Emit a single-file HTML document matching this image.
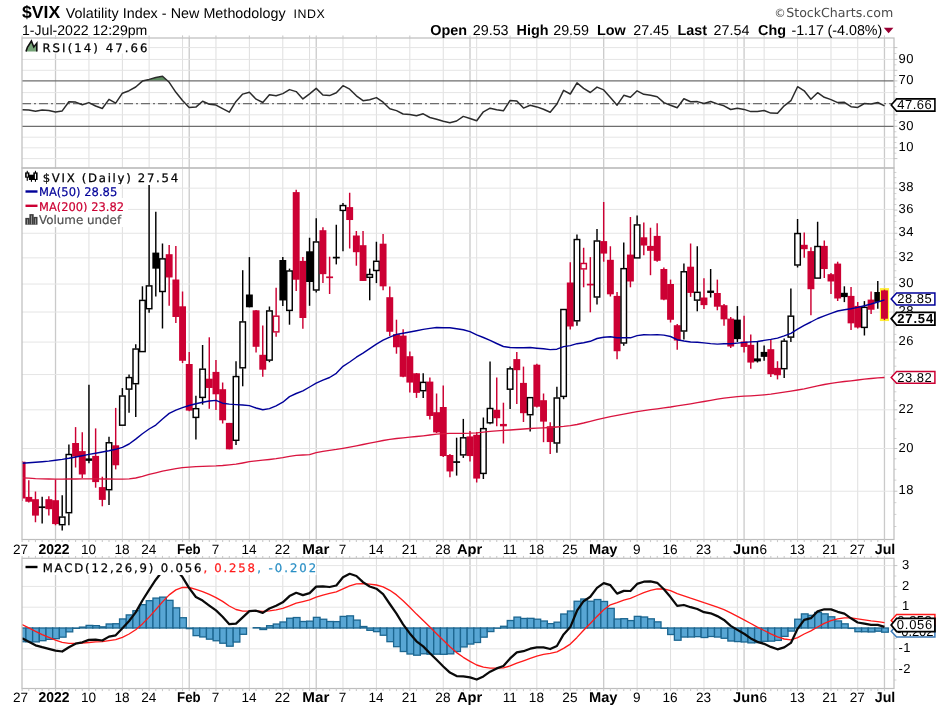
<!DOCTYPE html>
<html><head><meta charset="utf-8"><title>$VIX</title><style>html,body{margin:0;padding:0;background:#fff}svg{display:block;will-change:transform}text{text-rendering:geometricPrecision}</style></head><body>
<svg width="936" height="710" viewBox="0 0 936 710">
<rect width="936" height="710" fill="#fff"/>
<line x1="88.95" y1="38.0" x2="88.95" y2="168.0" stroke="#dfdfdf" stroke-width="1.0"/>
<line x1="122.38" y1="38.0" x2="122.38" y2="168.0" stroke="#dfdfdf" stroke-width="1.0"/>
<line x1="149.11" y1="38.0" x2="149.11" y2="168.0" stroke="#dfdfdf" stroke-width="1.0"/>
<line x1="182.54" y1="38.0" x2="182.54" y2="168.0" stroke="#dfdfdf" stroke-width="1.0"/>
<line x1="215.96" y1="38.0" x2="215.96" y2="168.0" stroke="#dfdfdf" stroke-width="1.0"/>
<line x1="249.39" y1="38.0" x2="249.39" y2="168.0" stroke="#dfdfdf" stroke-width="1.0"/>
<line x1="282.81" y1="38.0" x2="282.81" y2="168.0" stroke="#dfdfdf" stroke-width="1.0"/>
<line x1="309.56" y1="38.0" x2="309.56" y2="168.0" stroke="#dfdfdf" stroke-width="1.0"/>
<line x1="342.98" y1="38.0" x2="342.98" y2="168.0" stroke="#dfdfdf" stroke-width="1.0"/>
<line x1="376.41" y1="38.0" x2="376.41" y2="168.0" stroke="#dfdfdf" stroke-width="1.0"/>
<line x1="409.83" y1="38.0" x2="409.83" y2="168.0" stroke="#dfdfdf" stroke-width="1.0"/>
<line x1="443.25" y1="38.0" x2="443.25" y2="168.0" stroke="#dfdfdf" stroke-width="1.0"/>
<line x1="476.68" y1="38.0" x2="476.68" y2="168.0" stroke="#dfdfdf" stroke-width="1.0"/>
<line x1="510.11" y1="38.0" x2="510.11" y2="168.0" stroke="#dfdfdf" stroke-width="1.0"/>
<line x1="536.85" y1="38.0" x2="536.85" y2="168.0" stroke="#dfdfdf" stroke-width="1.0"/>
<line x1="570.27" y1="38.0" x2="570.27" y2="168.0" stroke="#dfdfdf" stroke-width="1.0"/>
<line x1="637.12" y1="38.0" x2="637.12" y2="168.0" stroke="#dfdfdf" stroke-width="1.0"/>
<line x1="670.54" y1="38.0" x2="670.54" y2="168.0" stroke="#dfdfdf" stroke-width="1.0"/>
<line x1="703.97" y1="38.0" x2="703.97" y2="168.0" stroke="#dfdfdf" stroke-width="1.0"/>
<line x1="737.39" y1="38.0" x2="737.39" y2="168.0" stroke="#dfdfdf" stroke-width="1.0"/>
<line x1="764.13" y1="38.0" x2="764.13" y2="168.0" stroke="#dfdfdf" stroke-width="1.0"/>
<line x1="797.56" y1="38.0" x2="797.56" y2="168.0" stroke="#dfdfdf" stroke-width="1.0"/>
<line x1="830.99" y1="38.0" x2="830.99" y2="168.0" stroke="#dfdfdf" stroke-width="1.0"/>
<line x1="857.73" y1="38.0" x2="857.73" y2="168.0" stroke="#dfdfdf" stroke-width="1.0"/>
<line x1="55.52" y1="38.0" x2="55.52" y2="168.0" stroke="#cacaca" stroke-width="1.3"/>
<line x1="189.22" y1="38.0" x2="189.22" y2="168.0" stroke="#cacaca" stroke-width="1.3"/>
<line x1="316.24" y1="38.0" x2="316.24" y2="168.0" stroke="#cacaca" stroke-width="1.3"/>
<line x1="470.00" y1="38.0" x2="470.00" y2="168.0" stroke="#cacaca" stroke-width="1.3"/>
<line x1="603.69" y1="38.0" x2="603.69" y2="168.0" stroke="#cacaca" stroke-width="1.3"/>
<line x1="744.08" y1="38.0" x2="744.08" y2="168.0" stroke="#cacaca" stroke-width="1.3"/>
<line x1="884.46" y1="38.0" x2="884.46" y2="168.0" stroke="#cacaca" stroke-width="1.3"/>
<line x1="22.0" y1="158.60" x2="894.0" y2="158.60" stroke="#e5e5e5" stroke-width="1.0" />
<line x1="22.0" y1="147.80" x2="894.0" y2="147.80" stroke="#e5e5e5" stroke-width="1.0" />
<line x1="22.0" y1="137.20" x2="894.0" y2="137.20" stroke="#e5e5e5" stroke-width="1.0" />
<line x1="22.0" y1="114.80" x2="894.0" y2="114.80" stroke="#e5e5e5" stroke-width="1.0" />
<line x1="22.0" y1="103.70" x2="894.0" y2="103.70" stroke="#e5e5e5" stroke-width="1.0" />
<line x1="22.0" y1="92.60" x2="894.0" y2="92.60" stroke="#e5e5e5" stroke-width="1.0" />
<line x1="22.0" y1="70.30" x2="894.0" y2="70.30" stroke="#e5e5e5" stroke-width="1.0" />
<line x1="22.0" y1="59.40" x2="894.0" y2="59.40" stroke="#e5e5e5" stroke-width="1.0" />
<line x1="22.0" y1="47.60" x2="894.0" y2="47.60" stroke="#e5e5e5" stroke-width="1.0" />
<line x1="894.0" y1="158.60" x2="897.4" y2="158.60" stroke="#c4c4c4" stroke-width="1"/>
<line x1="894.0" y1="147.80" x2="897.4" y2="147.80" stroke="#c4c4c4" stroke-width="1"/>
<line x1="894.0" y1="137.20" x2="897.4" y2="137.20" stroke="#c4c4c4" stroke-width="1"/>
<line x1="894.0" y1="126.30" x2="897.4" y2="126.30" stroke="#c4c4c4" stroke-width="1"/>
<line x1="894.0" y1="114.80" x2="897.4" y2="114.80" stroke="#c4c4c4" stroke-width="1"/>
<line x1="894.0" y1="103.70" x2="897.4" y2="103.70" stroke="#c4c4c4" stroke-width="1"/>
<line x1="894.0" y1="92.60" x2="897.4" y2="92.60" stroke="#c4c4c4" stroke-width="1"/>
<line x1="894.0" y1="80.90" x2="897.4" y2="80.90" stroke="#c4c4c4" stroke-width="1"/>
<line x1="894.0" y1="70.30" x2="897.4" y2="70.30" stroke="#c4c4c4" stroke-width="1"/>
<line x1="894.0" y1="59.40" x2="897.4" y2="59.40" stroke="#c4c4c4" stroke-width="1"/>
<line x1="894.0" y1="47.60" x2="897.4" y2="47.60" stroke="#c4c4c4" stroke-width="1"/>
<line x1="894.0" y1="153.20" x2="896.4" y2="153.20" stroke="#d2d2d2" stroke-width="1"/>
<line x1="894.0" y1="142.50" x2="896.4" y2="142.50" stroke="#d2d2d2" stroke-width="1"/>
<line x1="894.0" y1="131.75" x2="896.4" y2="131.75" stroke="#d2d2d2" stroke-width="1"/>
<line x1="894.0" y1="120.55" x2="896.4" y2="120.55" stroke="#d2d2d2" stroke-width="1"/>
<line x1="894.0" y1="109.25" x2="896.4" y2="109.25" stroke="#d2d2d2" stroke-width="1"/>
<line x1="894.0" y1="98.15" x2="896.4" y2="98.15" stroke="#d2d2d2" stroke-width="1"/>
<line x1="894.0" y1="86.75" x2="896.4" y2="86.75" stroke="#d2d2d2" stroke-width="1"/>
<line x1="894.0" y1="75.60" x2="896.4" y2="75.60" stroke="#d2d2d2" stroke-width="1"/>
<line x1="894.0" y1="64.85" x2="896.4" y2="64.85" stroke="#d2d2d2" stroke-width="1"/>
<line x1="894.0" y1="53.50" x2="896.4" y2="53.50" stroke="#d2d2d2" stroke-width="1"/>
<polygon points="143.2,80.9 149.1,79.4 155.8,77.5 162.5,76.3 167.6,80.9" fill="#5f8f62"/>
<line x1="22.0" y1="80.90" x2="894.0" y2="80.90" stroke="#6e6e6e" stroke-width="1.3" />
<line x1="22.0" y1="126.30" x2="894.0" y2="126.30" stroke="#6e6e6e" stroke-width="1.3" />
<line x1="22.0" y1="103.70" x2="894.0" y2="103.70" stroke="#6e6e6e" stroke-width="1.2" stroke-dasharray="9 3 2 3"/>
<polyline fill="none" stroke="#2b2b2b" stroke-width="1.5" stroke-linejoin="round" points="22.1,109.7 28.8,110.0 35.5,111.3 42.2,110.1 48.8,110.4 55.5,112.0 62.2,110.9 68.9,101.7 75.6,102.1 82.3,104.8 88.9,102.6 95.6,106.0 102.3,108.5 109.0,99.4 115.7,103.1 122.4,93.2 129.1,90.7 135.7,87.0 142.4,81.1 149.1,79.4 155.8,77.5 162.5,76.3 169.2,82.3 175.9,92.3 182.5,100.5 189.2,107.4 195.9,107.1 202.6,101.3 209.3,104.2 216.0,105.1 222.6,108.7 229.3,112.2 236.0,101.4 242.7,94.1 249.4,92.3 256.1,99.2 262.8,102.5 269.4,94.8 276.1,95.7 282.8,93.6 289.5,89.6 296.2,91.6 302.9,98.9 309.6,93.8 316.2,88.4 322.9,95.0 329.6,95.6 336.3,92.8 343.0,85.7 349.7,89.2 356.4,95.8 363.0,100.7 369.7,99.7 376.4,97.6 383.1,102.2 389.8,108.7 396.5,110.6 403.1,114.0 409.8,114.6 416.5,115.7 423.2,113.8 429.9,117.5 436.6,119.2 443.3,121.3 449.9,122.7 456.6,121.0 463.3,116.4 470.0,118.5 476.7,120.8 483.4,111.8 490.1,108.2 496.7,109.7 503.4,110.8 510.1,100.5 516.8,100.9 523.5,108.1 530.2,105.3 536.8,106.9 543.5,109.3 550.2,112.3 556.9,104.0 563.6,90.3 570.3,94.0 577.0,82.9 583.6,88.3 590.3,92.5 597.0,87.1 603.7,89.9 610.4,97.4 617.1,105.2 623.8,95.3 630.4,97.3 637.1,90.8 643.8,94.3 650.5,95.2 657.2,96.8 663.9,102.6 670.5,105.2 677.2,107.7 683.9,98.7 690.6,101.7 697.3,101.6 704.0,103.5 710.7,101.5 717.3,103.9 724.0,105.8 730.7,109.5 737.4,108.3 744.1,109.4 750.8,111.6 757.4,111.4 764.1,110.5 770.8,113.1 777.5,113.3 784.2,105.8 790.9,100.7 797.6,86.7 804.2,90.8 810.9,99.2 817.6,92.7 824.3,97.3 831.0,99.6 837.7,102.6 844.4,102.3 851.0,106.7 857.7,107.4 864.4,103.5 871.1,104.1 877.8,102.5 884.5,105.9"/>
<rect x="22.0" y="38.0" width="872.0" height="130.0" fill="none" stroke="#bdbdbd" stroke-width="1.2"/>
<text x="898.5" y="62.7" style="font-family:'Liberation Sans',Arial,sans-serif;font-size:13px;letter-spacing:0.4px;fill:#000">90</text>
<text x="898.5" y="84.3" style="font-family:'Liberation Sans',Arial,sans-serif;font-size:13px;letter-spacing:0.4px;fill:#000">70</text>
<text x="898.5" y="130.0" style="font-family:'Liberation Sans',Arial,sans-serif;font-size:13px;letter-spacing:0.4px;fill:#000">30</text>
<text x="898.5" y="151.2" style="font-family:'Liberation Sans',Arial,sans-serif;font-size:13px;letter-spacing:0.4px;fill:#000">10</text>
<line x1="88.95" y1="168.0" x2="88.95" y2="539.5" stroke="#dfdfdf" stroke-width="1.0"/>
<line x1="122.38" y1="168.0" x2="122.38" y2="539.5" stroke="#dfdfdf" stroke-width="1.0"/>
<line x1="149.11" y1="168.0" x2="149.11" y2="539.5" stroke="#dfdfdf" stroke-width="1.0"/>
<line x1="182.54" y1="168.0" x2="182.54" y2="539.5" stroke="#dfdfdf" stroke-width="1.0"/>
<line x1="215.96" y1="168.0" x2="215.96" y2="539.5" stroke="#dfdfdf" stroke-width="1.0"/>
<line x1="249.39" y1="168.0" x2="249.39" y2="539.5" stroke="#dfdfdf" stroke-width="1.0"/>
<line x1="282.81" y1="168.0" x2="282.81" y2="539.5" stroke="#dfdfdf" stroke-width="1.0"/>
<line x1="309.56" y1="168.0" x2="309.56" y2="539.5" stroke="#dfdfdf" stroke-width="1.0"/>
<line x1="342.98" y1="168.0" x2="342.98" y2="539.5" stroke="#dfdfdf" stroke-width="1.0"/>
<line x1="376.41" y1="168.0" x2="376.41" y2="539.5" stroke="#dfdfdf" stroke-width="1.0"/>
<line x1="409.83" y1="168.0" x2="409.83" y2="539.5" stroke="#dfdfdf" stroke-width="1.0"/>
<line x1="443.25" y1="168.0" x2="443.25" y2="539.5" stroke="#dfdfdf" stroke-width="1.0"/>
<line x1="476.68" y1="168.0" x2="476.68" y2="539.5" stroke="#dfdfdf" stroke-width="1.0"/>
<line x1="510.11" y1="168.0" x2="510.11" y2="539.5" stroke="#dfdfdf" stroke-width="1.0"/>
<line x1="536.85" y1="168.0" x2="536.85" y2="539.5" stroke="#dfdfdf" stroke-width="1.0"/>
<line x1="570.27" y1="168.0" x2="570.27" y2="539.5" stroke="#dfdfdf" stroke-width="1.0"/>
<line x1="637.12" y1="168.0" x2="637.12" y2="539.5" stroke="#dfdfdf" stroke-width="1.0"/>
<line x1="670.54" y1="168.0" x2="670.54" y2="539.5" stroke="#dfdfdf" stroke-width="1.0"/>
<line x1="703.97" y1="168.0" x2="703.97" y2="539.5" stroke="#dfdfdf" stroke-width="1.0"/>
<line x1="737.39" y1="168.0" x2="737.39" y2="539.5" stroke="#dfdfdf" stroke-width="1.0"/>
<line x1="764.13" y1="168.0" x2="764.13" y2="539.5" stroke="#dfdfdf" stroke-width="1.0"/>
<line x1="797.56" y1="168.0" x2="797.56" y2="539.5" stroke="#dfdfdf" stroke-width="1.0"/>
<line x1="830.99" y1="168.0" x2="830.99" y2="539.5" stroke="#dfdfdf" stroke-width="1.0"/>
<line x1="857.73" y1="168.0" x2="857.73" y2="539.5" stroke="#dfdfdf" stroke-width="1.0"/>
<line x1="55.52" y1="168.0" x2="55.52" y2="539.5" stroke="#cacaca" stroke-width="1.3"/>
<line x1="189.22" y1="168.0" x2="189.22" y2="539.5" stroke="#cacaca" stroke-width="1.3"/>
<line x1="316.24" y1="168.0" x2="316.24" y2="539.5" stroke="#cacaca" stroke-width="1.3"/>
<line x1="470.00" y1="168.0" x2="470.00" y2="539.5" stroke="#cacaca" stroke-width="1.3"/>
<line x1="603.69" y1="168.0" x2="603.69" y2="539.5" stroke="#cacaca" stroke-width="1.3"/>
<line x1="744.08" y1="168.0" x2="744.08" y2="539.5" stroke="#cacaca" stroke-width="1.3"/>
<line x1="884.46" y1="168.0" x2="884.46" y2="539.5" stroke="#cacaca" stroke-width="1.3"/>
<line x1="22.0" y1="491.23" x2="894.0" y2="491.23" stroke="#e5e5e5" stroke-width="1.0" />
<line x1="22.0" y1="448.50" x2="894.0" y2="448.50" stroke="#e5e5e5" stroke-width="1.0" />
<line x1="22.0" y1="409.84" x2="894.0" y2="409.84" stroke="#e5e5e5" stroke-width="1.0" />
<line x1="22.0" y1="374.55" x2="894.0" y2="374.55" stroke="#e5e5e5" stroke-width="1.0" />
<line x1="22.0" y1="342.09" x2="894.0" y2="342.09" stroke="#e5e5e5" stroke-width="1.0" />
<line x1="22.0" y1="312.03" x2="894.0" y2="312.03" stroke="#e5e5e5" stroke-width="1.0" />
<line x1="22.0" y1="284.04" x2="894.0" y2="284.04" stroke="#e5e5e5" stroke-width="1.0" />
<line x1="22.0" y1="257.87" x2="894.0" y2="257.87" stroke="#e5e5e5" stroke-width="1.0" />
<line x1="22.0" y1="233.28" x2="894.0" y2="233.28" stroke="#e5e5e5" stroke-width="1.0" />
<line x1="22.0" y1="209.40" x2="894.0" y2="209.40" stroke="#e5e5e5" stroke-width="1.0" />
<line x1="22.0" y1="188.16" x2="894.0" y2="188.16" stroke="#e5e5e5" stroke-width="1.0" />
<line x1="894.0" y1="491.23" x2="897.4" y2="491.23" stroke="#c4c4c4" stroke-width="1"/>
<line x1="894.0" y1="448.50" x2="897.4" y2="448.50" stroke="#c4c4c4" stroke-width="1"/>
<line x1="894.0" y1="409.84" x2="897.4" y2="409.84" stroke="#c4c4c4" stroke-width="1"/>
<line x1="894.0" y1="374.55" x2="897.4" y2="374.55" stroke="#c4c4c4" stroke-width="1"/>
<line x1="894.0" y1="342.09" x2="897.4" y2="342.09" stroke="#c4c4c4" stroke-width="1"/>
<line x1="894.0" y1="312.03" x2="897.4" y2="312.03" stroke="#c4c4c4" stroke-width="1"/>
<line x1="894.0" y1="284.04" x2="897.4" y2="284.04" stroke="#c4c4c4" stroke-width="1"/>
<line x1="894.0" y1="257.87" x2="897.4" y2="257.87" stroke="#c4c4c4" stroke-width="1"/>
<line x1="894.0" y1="233.28" x2="897.4" y2="233.28" stroke="#c4c4c4" stroke-width="1"/>
<line x1="894.0" y1="210.09" x2="897.4" y2="210.09" stroke="#c4c4c4" stroke-width="1"/>
<line x1="894.0" y1="188.16" x2="897.4" y2="188.16" stroke="#c4c4c4" stroke-width="1"/>
<line x1="894.0" y1="526.53" x2="896.4" y2="526.53" stroke="#d2d2d2" stroke-width="1"/>
<line x1="894.0" y1="514.42" x2="896.4" y2="514.42" stroke="#d2d2d2" stroke-width="1"/>
<line x1="894.0" y1="502.66" x2="896.4" y2="502.66" stroke="#d2d2d2" stroke-width="1"/>
<line x1="894.0" y1="480.12" x2="896.4" y2="480.12" stroke="#d2d2d2" stroke-width="1"/>
<line x1="894.0" y1="469.30" x2="896.4" y2="469.30" stroke="#d2d2d2" stroke-width="1"/>
<line x1="894.0" y1="458.77" x2="896.4" y2="458.77" stroke="#d2d2d2" stroke-width="1"/>
<line x1="894.0" y1="438.48" x2="896.4" y2="438.48" stroke="#d2d2d2" stroke-width="1"/>
<line x1="894.0" y1="428.71" x2="896.4" y2="428.71" stroke="#d2d2d2" stroke-width="1"/>
<line x1="894.0" y1="419.17" x2="896.4" y2="419.17" stroke="#d2d2d2" stroke-width="1"/>
<line x1="894.0" y1="400.73" x2="896.4" y2="400.73" stroke="#d2d2d2" stroke-width="1"/>
<line x1="894.0" y1="391.81" x2="896.4" y2="391.81" stroke="#d2d2d2" stroke-width="1"/>
<line x1="894.0" y1="383.09" x2="896.4" y2="383.09" stroke="#d2d2d2" stroke-width="1"/>
<line x1="894.0" y1="366.19" x2="896.4" y2="366.19" stroke="#d2d2d2" stroke-width="1"/>
<line x1="894.0" y1="357.99" x2="896.4" y2="357.99" stroke="#d2d2d2" stroke-width="1"/>
<line x1="894.0" y1="349.96" x2="896.4" y2="349.96" stroke="#d2d2d2" stroke-width="1"/>
<line x1="894.0" y1="334.36" x2="896.4" y2="334.36" stroke="#d2d2d2" stroke-width="1"/>
<line x1="894.0" y1="326.78" x2="896.4" y2="326.78" stroke="#d2d2d2" stroke-width="1"/>
<line x1="894.0" y1="319.34" x2="896.4" y2="319.34" stroke="#d2d2d2" stroke-width="1"/>
<line x1="894.0" y1="304.85" x2="896.4" y2="304.85" stroke="#d2d2d2" stroke-width="1"/>
<line x1="894.0" y1="297.79" x2="896.4" y2="297.79" stroke="#d2d2d2" stroke-width="1"/>
<line x1="894.0" y1="290.86" x2="896.4" y2="290.86" stroke="#d2d2d2" stroke-width="1"/>
<line x1="894.0" y1="277.34" x2="896.4" y2="277.34" stroke="#d2d2d2" stroke-width="1"/>
<line x1="894.0" y1="270.74" x2="896.4" y2="270.74" stroke="#d2d2d2" stroke-width="1"/>
<line x1="894.0" y1="264.25" x2="896.4" y2="264.25" stroke="#d2d2d2" stroke-width="1"/>
<line x1="894.0" y1="251.58" x2="896.4" y2="251.58" stroke="#d2d2d2" stroke-width="1"/>
<line x1="894.0" y1="245.39" x2="896.4" y2="245.39" stroke="#d2d2d2" stroke-width="1"/>
<line x1="894.0" y1="239.29" x2="896.4" y2="239.29" stroke="#d2d2d2" stroke-width="1"/>
<line x1="894.0" y1="227.36" x2="896.4" y2="227.36" stroke="#d2d2d2" stroke-width="1"/>
<line x1="894.0" y1="221.52" x2="896.4" y2="221.52" stroke="#d2d2d2" stroke-width="1"/>
<line x1="894.0" y1="215.77" x2="896.4" y2="215.77" stroke="#d2d2d2" stroke-width="1"/>
<line x1="894.0" y1="204.50" x2="896.4" y2="204.50" stroke="#d2d2d2" stroke-width="1"/>
<line x1="894.0" y1="198.98" x2="896.4" y2="198.98" stroke="#d2d2d2" stroke-width="1"/>
<line x1="894.0" y1="193.54" x2="896.4" y2="193.54" stroke="#d2d2d2" stroke-width="1"/>
<line x1="894.0" y1="182.86" x2="896.4" y2="182.86" stroke="#d2d2d2" stroke-width="1"/>
<line x1="894.0" y1="177.63" x2="896.4" y2="177.63" stroke="#d2d2d2" stroke-width="1"/>
<line x1="894.0" y1="172.46" x2="896.4" y2="172.46" stroke="#d2d2d2" stroke-width="1"/>
<clipPath id="cp"><rect x="22.0" y="168.0" width="872.0" height="371.5"/></clipPath>
<g clip-path="url(#cp)">
<line x1="22.10" y1="461.0" x2="22.10" y2="501.0" stroke="#cc0033" stroke-width="1.45"/>
<rect x="18.65" y="461.70" width="6.90" height="36.81" fill="#cc0033"/>
<line x1="28.79" y1="480.3" x2="28.79" y2="502.5" stroke="#cc0033" stroke-width="1.45"/>
<rect x="25.34" y="496.90" width="6.90" height="4.83" fill="#cc0033"/>
<line x1="35.47" y1="491.5" x2="35.47" y2="522.3" stroke="#cc0033" stroke-width="1.45"/>
<rect x="32.02" y="499.20" width="6.90" height="16.41" fill="#cc0033"/>
<line x1="42.16" y1="496.7" x2="42.16" y2="523.6" stroke="#000" stroke-width="1.45"/>
<rect x="38.70" y="506.36" width="6.90" height="1.7" fill="#000"/>
<line x1="48.84" y1="496.3" x2="48.84" y2="515.5" stroke="#cc0033" stroke-width="1.45"/>
<rect x="45.39" y="499.20" width="6.90" height="10.00" fill="#cc0033"/>
<line x1="55.52" y1="479.6" x2="55.52" y2="525.2" stroke="#cc0033" stroke-width="1.45"/>
<rect x="52.07" y="500.20" width="6.90" height="23.88" fill="#cc0033"/>
<line x1="62.21" y1="495.3" x2="62.21" y2="516.6" stroke="#000" stroke-width="1.45"/>
<line x1="62.21" y1="525.2" x2="62.21" y2="530.5" stroke="#000" stroke-width="1.45"/>
<rect x="59.46" y="517.07" width="5.50" height="7.63" fill="#fff" stroke="#000" stroke-width="1.45"/>
<line x1="68.89" y1="444.4" x2="68.89" y2="454.0" stroke="#000" stroke-width="1.45"/>
<line x1="68.89" y1="513.2" x2="68.89" y2="525.2" stroke="#000" stroke-width="1.45"/>
<rect x="66.14" y="454.51" width="5.50" height="58.19" fill="#fff" stroke="#000" stroke-width="1.45"/>
<line x1="75.58" y1="427.1" x2="75.58" y2="467.5" stroke="#cc0033" stroke-width="1.45"/>
<rect x="72.13" y="443.00" width="6.90" height="13.49" fill="#cc0033"/>
<line x1="82.27" y1="432.3" x2="82.27" y2="478.0" stroke="#cc0033" stroke-width="1.45"/>
<rect x="78.81" y="451.10" width="6.90" height="23.36" fill="#cc0033"/>
<line x1="88.95" y1="384.8" x2="88.95" y2="463.2" stroke="#000" stroke-width="1.45"/>
<rect x="85.50" y="458.40" width="6.90" height="2.45" fill="#000"/>
<line x1="95.63" y1="428.4" x2="95.63" y2="487.7" stroke="#cc0033" stroke-width="1.45"/>
<rect x="92.18" y="455.90" width="6.90" height="26.20" fill="#cc0033"/>
<line x1="102.32" y1="476.7" x2="102.32" y2="506.3" stroke="#cc0033" stroke-width="1.45"/>
<rect x="98.87" y="487.10" width="6.90" height="12.79" fill="#cc0033"/>
<line x1="109.00" y1="436.7" x2="109.00" y2="442.3" stroke="#000" stroke-width="1.45"/>
<line x1="109.00" y1="490.2" x2="109.00" y2="505.0" stroke="#000" stroke-width="1.45"/>
<rect x="106.25" y="442.76" width="5.50" height="46.94" fill="#fff" stroke="#000" stroke-width="1.45"/>
<line x1="115.69" y1="407.9" x2="115.69" y2="469.4" stroke="#cc0033" stroke-width="1.45"/>
<rect x="112.24" y="445.30" width="6.90" height="19.97" fill="#cc0033"/>
<line x1="122.38" y1="388.1" x2="122.38" y2="395.5" stroke="#000" stroke-width="1.45"/>
<line x1="122.38" y1="425.7" x2="122.38" y2="425.7" stroke="#000" stroke-width="1.45"/>
<rect x="119.62" y="396.03" width="5.50" height="29.17" fill="#fff" stroke="#000" stroke-width="1.45"/>
<line x1="129.06" y1="374.6" x2="129.06" y2="377.1" stroke="#000" stroke-width="1.45"/>
<line x1="129.06" y1="389.6" x2="129.06" y2="412.7" stroke="#000" stroke-width="1.45"/>
<rect x="126.31" y="377.59" width="5.50" height="11.51" fill="#fff" stroke="#000" stroke-width="1.45"/>
<line x1="135.75" y1="344.2" x2="135.75" y2="348.5" stroke="#000" stroke-width="1.45"/>
<line x1="135.75" y1="384.2" x2="135.75" y2="416.9" stroke="#000" stroke-width="1.45"/>
<rect x="133.00" y="349.03" width="5.50" height="34.67" fill="#fff" stroke="#000" stroke-width="1.45"/>
<line x1="142.43" y1="286.3" x2="142.43" y2="299.9" stroke="#000" stroke-width="1.45"/>
<line x1="142.43" y1="352.1" x2="142.43" y2="352.1" stroke="#000" stroke-width="1.45"/>
<rect x="139.68" y="300.40" width="5.50" height="51.20" fill="#fff" stroke="#000" stroke-width="1.45"/>
<line x1="149.11" y1="178.2" x2="149.11" y2="285.4" stroke="#000" stroke-width="1.45"/>
<line x1="149.11" y1="309.2" x2="149.11" y2="312.7" stroke="#000" stroke-width="1.45"/>
<rect x="146.36" y="285.90" width="5.50" height="22.80" fill="#fff" stroke="#000" stroke-width="1.45"/>
<line x1="155.80" y1="211.8" x2="155.80" y2="296.5" stroke="#000" stroke-width="1.45"/>
<rect x="152.35" y="252.60" width="6.90" height="16.06" fill="#000"/>
<line x1="162.48" y1="243.4" x2="162.48" y2="258.4" stroke="#000" stroke-width="1.45"/>
<line x1="162.48" y1="292.0" x2="162.48" y2="328.5" stroke="#000" stroke-width="1.45"/>
<rect x="159.73" y="258.87" width="5.50" height="32.63" fill="#fff" stroke="#000" stroke-width="1.45"/>
<line x1="169.17" y1="244.9" x2="169.17" y2="305.8" stroke="#cc0033" stroke-width="1.45"/>
<rect x="165.72" y="254.20" width="6.90" height="23.27" fill="#cc0033"/>
<line x1="175.85" y1="245.9" x2="175.85" y2="323.1" stroke="#cc0033" stroke-width="1.45"/>
<rect x="172.41" y="279.50" width="6.90" height="37.48" fill="#cc0033"/>
<line x1="182.54" y1="291.5" x2="182.54" y2="363.1" stroke="#cc0033" stroke-width="1.45"/>
<rect x="179.09" y="306.30" width="6.90" height="54.46" fill="#cc0033"/>
<line x1="189.22" y1="351.9" x2="189.22" y2="411.2" stroke="#cc0033" stroke-width="1.45"/>
<rect x="185.78" y="364.00" width="6.90" height="46.58" fill="#cc0033"/>
<line x1="195.91" y1="395.8" x2="195.91" y2="408.2" stroke="#000" stroke-width="1.45"/>
<line x1="195.91" y1="417.9" x2="195.91" y2="439.4" stroke="#000" stroke-width="1.45"/>
<rect x="193.16" y="408.69" width="5.50" height="8.71" fill="#fff" stroke="#000" stroke-width="1.45"/>
<line x1="202.59" y1="345.0" x2="202.59" y2="368.7" stroke="#000" stroke-width="1.45"/>
<line x1="202.59" y1="397.9" x2="202.59" y2="404.6" stroke="#000" stroke-width="1.45"/>
<rect x="199.84" y="369.18" width="5.50" height="28.22" fill="#fff" stroke="#000" stroke-width="1.45"/>
<line x1="209.28" y1="337.3" x2="209.28" y2="408.8" stroke="#cc0033" stroke-width="1.45"/>
<rect x="205.83" y="378.70" width="6.90" height="9.25" fill="#cc0033"/>
<line x1="215.96" y1="360.0" x2="215.96" y2="410.0" stroke="#cc0033" stroke-width="1.45"/>
<rect x="212.51" y="371.90" width="6.90" height="22.39" fill="#cc0033"/>
<line x1="222.65" y1="382.5" x2="222.65" y2="423.5" stroke="#cc0033" stroke-width="1.45"/>
<rect x="219.20" y="389.20" width="6.90" height="31.10" fill="#cc0033"/>
<line x1="229.33" y1="422.9" x2="229.33" y2="449.3" stroke="#cc0033" stroke-width="1.45"/>
<rect x="225.88" y="422.90" width="6.90" height="26.41" fill="#cc0033"/>
<line x1="236.02" y1="361.3" x2="236.02" y2="376.1" stroke="#000" stroke-width="1.45"/>
<line x1="236.02" y1="440.8" x2="236.02" y2="445.0" stroke="#000" stroke-width="1.45"/>
<rect x="233.27" y="376.57" width="5.50" height="63.73" fill="#fff" stroke="#000" stroke-width="1.45"/>
<line x1="242.70" y1="270.2" x2="242.70" y2="321.4" stroke="#000" stroke-width="1.45"/>
<line x1="242.70" y1="368.3" x2="242.70" y2="386.3" stroke="#000" stroke-width="1.45"/>
<rect x="239.95" y="321.91" width="5.50" height="45.89" fill="#fff" stroke="#000" stroke-width="1.45"/>
<line x1="249.39" y1="257.1" x2="249.39" y2="307.3" stroke="#000" stroke-width="1.45"/>
<rect x="245.94" y="294.50" width="6.90" height="12.77" fill="#000"/>
<line x1="256.07" y1="310.0" x2="256.07" y2="352.5" stroke="#cc0033" stroke-width="1.45"/>
<rect x="252.62" y="310.30" width="6.90" height="36.49" fill="#cc0033"/>
<line x1="262.76" y1="325.4" x2="262.76" y2="376.7" stroke="#cc0033" stroke-width="1.45"/>
<rect x="259.31" y="354.80" width="6.90" height="14.88" fill="#cc0033"/>
<line x1="269.44" y1="306.5" x2="269.44" y2="310.4" stroke="#000" stroke-width="1.45"/>
<line x1="269.44" y1="360.6" x2="269.44" y2="362.2" stroke="#000" stroke-width="1.45"/>
<rect x="266.69" y="310.94" width="5.50" height="49.16" fill="#fff" stroke="#000" stroke-width="1.45"/>
<line x1="276.13" y1="287.8" x2="276.13" y2="315.7" stroke="#cc0033" stroke-width="1.45"/>
<line x1="276.13" y1="332.4" x2="276.13" y2="336.7" stroke="#cc0033" stroke-width="1.45"/>
<rect x="273.38" y="316.16" width="5.50" height="15.74" fill="#fff" stroke="#cc0033" stroke-width="1.45"/>
<line x1="282.81" y1="257.1" x2="282.81" y2="306.0" stroke="#000" stroke-width="1.45"/>
<rect x="279.37" y="260.00" width="6.90" height="40.46" fill="#000"/>
<line x1="289.50" y1="268.6" x2="289.50" y2="270.5" stroke="#000" stroke-width="1.45"/>
<line x1="289.50" y1="310.9" x2="289.50" y2="324.7" stroke="#000" stroke-width="1.45"/>
<rect x="286.75" y="270.98" width="5.50" height="39.42" fill="#fff" stroke="#000" stroke-width="1.45"/>
<line x1="296.19" y1="189.8" x2="296.19" y2="291.1" stroke="#cc0033" stroke-width="1.45"/>
<rect x="292.74" y="192.10" width="6.90" height="87.64" fill="#cc0033"/>
<line x1="302.87" y1="257.0" x2="302.87" y2="328.7" stroke="#cc0033" stroke-width="1.45"/>
<rect x="299.42" y="260.90" width="6.90" height="57.11" fill="#cc0033"/>
<line x1="309.56" y1="237.8" x2="309.56" y2="305.8" stroke="#000" stroke-width="1.45"/>
<rect x="306.11" y="251.30" width="6.90" height="30.72" fill="#000"/>
<line x1="316.24" y1="218.2" x2="316.24" y2="241.5" stroke="#000" stroke-width="1.45"/>
<line x1="316.24" y1="290.5" x2="316.24" y2="292.5" stroke="#000" stroke-width="1.45"/>
<rect x="313.49" y="241.97" width="5.50" height="48.03" fill="#fff" stroke="#000" stroke-width="1.45"/>
<line x1="322.93" y1="227.3" x2="322.93" y2="283.1" stroke="#cc0033" stroke-width="1.45"/>
<rect x="319.48" y="230.20" width="6.90" height="43.96" fill="#cc0033"/>
<line x1="329.61" y1="256.7" x2="329.61" y2="294.0" stroke="#cc0033" stroke-width="1.45"/>
<rect x="326.16" y="276.45" width="6.90" height="1.7" fill="#cc0033"/>
<line x1="336.30" y1="224.8" x2="336.30" y2="264.4" stroke="#000" stroke-width="1.45"/>
<rect x="332.85" y="256.76" width="6.90" height="1.7" fill="#000"/>
<line x1="342.98" y1="203.0" x2="342.98" y2="205.1" stroke="#000" stroke-width="1.45"/>
<line x1="342.98" y1="210.9" x2="342.98" y2="251.3" stroke="#000" stroke-width="1.45"/>
<rect x="340.23" y="205.56" width="5.50" height="4.84" fill="#fff" stroke="#000" stroke-width="1.45"/>
<line x1="349.67" y1="192.7" x2="349.67" y2="248.4" stroke="#cc0033" stroke-width="1.45"/>
<rect x="346.22" y="207.10" width="6.90" height="12.92" fill="#cc0033"/>
<line x1="356.35" y1="231.1" x2="356.35" y2="265.7" stroke="#cc0033" stroke-width="1.45"/>
<rect x="352.90" y="235.50" width="6.90" height="16.70" fill="#cc0033"/>
<line x1="363.04" y1="231.1" x2="363.04" y2="281.0" stroke="#cc0033" stroke-width="1.45"/>
<rect x="359.59" y="245.20" width="6.90" height="35.75" fill="#cc0033"/>
<line x1="369.72" y1="268.6" x2="369.72" y2="274.0" stroke="#000" stroke-width="1.45"/>
<line x1="369.72" y1="277.8" x2="369.72" y2="300.3" stroke="#000" stroke-width="1.45"/>
<rect x="366.97" y="274.53" width="5.50" height="2.77" fill="#fff" stroke="#000" stroke-width="1.45"/>
<line x1="376.41" y1="241.8" x2="376.41" y2="260.8" stroke="#000" stroke-width="1.45"/>
<line x1="376.41" y1="271.0" x2="376.41" y2="283.1" stroke="#000" stroke-width="1.45"/>
<rect x="373.66" y="261.29" width="5.50" height="9.21" fill="#fff" stroke="#000" stroke-width="1.45"/>
<line x1="383.09" y1="234.0" x2="383.09" y2="290.2" stroke="#cc0033" stroke-width="1.45"/>
<rect x="379.64" y="243.70" width="6.90" height="42.65" fill="#cc0033"/>
<line x1="389.77" y1="286.4" x2="389.77" y2="336.0" stroke="#cc0033" stroke-width="1.45"/>
<rect x="386.32" y="297.20" width="6.90" height="34.57" fill="#cc0033"/>
<line x1="396.46" y1="319.7" x2="396.46" y2="353.7" stroke="#cc0033" stroke-width="1.45"/>
<rect x="393.01" y="334.10" width="6.90" height="13.17" fill="#cc0033"/>
<line x1="403.14" y1="329.3" x2="403.14" y2="377.2" stroke="#cc0033" stroke-width="1.45"/>
<rect x="399.69" y="335.60" width="6.90" height="41.15" fill="#cc0033"/>
<line x1="409.83" y1="351.4" x2="409.83" y2="392.5" stroke="#cc0033" stroke-width="1.45"/>
<rect x="406.38" y="356.20" width="6.90" height="26.37" fill="#cc0033"/>
<line x1="416.51" y1="373.0" x2="416.51" y2="397.9" stroke="#cc0033" stroke-width="1.45"/>
<rect x="413.06" y="373.30" width="6.90" height="19.57" fill="#cc0033"/>
<line x1="423.20" y1="373.3" x2="423.20" y2="381.9" stroke="#000" stroke-width="1.45"/>
<line x1="423.20" y1="391.2" x2="423.20" y2="397.9" stroke="#000" stroke-width="1.45"/>
<rect x="420.45" y="382.38" width="5.50" height="8.32" fill="#fff" stroke="#000" stroke-width="1.45"/>
<line x1="429.88" y1="377.5" x2="429.88" y2="419.5" stroke="#cc0033" stroke-width="1.45"/>
<rect x="426.44" y="381.60" width="6.90" height="34.37" fill="#cc0033"/>
<line x1="436.57" y1="393.5" x2="436.57" y2="433.0" stroke="#cc0033" stroke-width="1.45"/>
<rect x="433.12" y="412.20" width="6.90" height="20.20" fill="#cc0033"/>
<line x1="443.25" y1="385.4" x2="443.25" y2="457.0" stroke="#cc0033" stroke-width="1.45"/>
<rect x="439.81" y="407.00" width="6.90" height="49.07" fill="#cc0033"/>
<line x1="449.94" y1="454.0" x2="449.94" y2="477.2" stroke="#cc0033" stroke-width="1.45"/>
<rect x="446.49" y="455.00" width="6.90" height="16.44" fill="#cc0033"/>
<line x1="456.62" y1="437.7" x2="456.62" y2="475.6" stroke="#000" stroke-width="1.45"/>
<rect x="453.18" y="461.21" width="6.90" height="1.7" fill="#000"/>
<line x1="463.31" y1="418.9" x2="463.31" y2="437.3" stroke="#000" stroke-width="1.45"/>
<line x1="463.31" y1="455.4" x2="463.31" y2="457.9" stroke="#000" stroke-width="1.45"/>
<rect x="460.56" y="437.80" width="5.50" height="17.10" fill="#fff" stroke="#000" stroke-width="1.45"/>
<line x1="470.00" y1="431.0" x2="470.00" y2="461.4" stroke="#cc0033" stroke-width="1.45"/>
<rect x="466.55" y="436.40" width="6.90" height="19.67" fill="#cc0033"/>
<line x1="476.68" y1="432.0" x2="476.68" y2="482.5" stroke="#cc0033" stroke-width="1.45"/>
<rect x="473.23" y="434.80" width="6.90" height="43.79" fill="#cc0033"/>
<line x1="483.37" y1="417.5" x2="483.37" y2="428.1" stroke="#000" stroke-width="1.45"/>
<line x1="483.37" y1="473.9" x2="483.37" y2="479.0" stroke="#000" stroke-width="1.45"/>
<rect x="480.62" y="428.63" width="5.50" height="44.77" fill="#fff" stroke="#000" stroke-width="1.45"/>
<line x1="490.05" y1="361.4" x2="490.05" y2="408.0" stroke="#000" stroke-width="1.45"/>
<line x1="490.05" y1="423.3" x2="490.05" y2="424.3" stroke="#000" stroke-width="1.45"/>
<rect x="487.30" y="408.50" width="5.50" height="14.30" fill="#fff" stroke="#000" stroke-width="1.45"/>
<line x1="496.74" y1="377.5" x2="496.74" y2="426.2" stroke="#cc0033" stroke-width="1.45"/>
<rect x="493.29" y="409.80" width="6.90" height="8.42" fill="#cc0033"/>
<line x1="503.42" y1="402.7" x2="503.42" y2="443.5" stroke="#cc0033" stroke-width="1.45"/>
<rect x="499.97" y="423.92" width="6.90" height="2.4" fill="#cc0033"/>
<line x1="510.11" y1="366.5" x2="510.11" y2="368.3" stroke="#000" stroke-width="1.45"/>
<line x1="510.11" y1="389.7" x2="510.11" y2="408.9" stroke="#000" stroke-width="1.45"/>
<rect x="507.36" y="368.85" width="5.50" height="20.35" fill="#fff" stroke="#000" stroke-width="1.45"/>
<line x1="516.79" y1="352.0" x2="516.79" y2="404.1" stroke="#cc0033" stroke-width="1.45"/>
<rect x="513.34" y="359.10" width="6.90" height="11.08" fill="#cc0033"/>
<line x1="523.47" y1="366.6" x2="523.47" y2="422.0" stroke="#cc0033" stroke-width="1.45"/>
<rect x="520.02" y="382.90" width="6.90" height="30.27" fill="#cc0033"/>
<line x1="530.16" y1="397.0" x2="530.16" y2="397.1" stroke="#000" stroke-width="1.45"/>
<line x1="530.16" y1="415.2" x2="530.16" y2="431.4" stroke="#000" stroke-width="1.45"/>
<rect x="527.41" y="397.64" width="5.50" height="17.06" fill="#fff" stroke="#000" stroke-width="1.45"/>
<line x1="536.85" y1="363.7" x2="536.85" y2="407.5" stroke="#cc0033" stroke-width="1.45"/>
<rect x="533.39" y="364.70" width="6.90" height="42.02" fill="#cc0033"/>
<line x1="543.53" y1="393.5" x2="543.53" y2="442.2" stroke="#cc0033" stroke-width="1.45"/>
<rect x="540.08" y="400.20" width="6.90" height="21.43" fill="#cc0033"/>
<line x1="550.22" y1="422.3" x2="550.22" y2="454.0" stroke="#cc0033" stroke-width="1.45"/>
<rect x="546.76" y="426.20" width="6.90" height="15.86" fill="#cc0033"/>
<line x1="556.90" y1="386.7" x2="556.90" y2="397.5" stroke="#000" stroke-width="1.45"/>
<line x1="556.90" y1="443.5" x2="556.90" y2="452.7" stroke="#000" stroke-width="1.45"/>
<rect x="554.15" y="398.00" width="5.50" height="45.00" fill="#fff" stroke="#000" stroke-width="1.45"/>
<line x1="563.59" y1="309.0" x2="563.59" y2="309.0" stroke="#000" stroke-width="1.45"/>
<line x1="563.59" y1="396.9" x2="563.59" y2="399.2" stroke="#000" stroke-width="1.45"/>
<rect x="560.84" y="309.50" width="5.50" height="86.90" fill="#fff" stroke="#000" stroke-width="1.45"/>
<line x1="570.27" y1="262.3" x2="570.27" y2="329.6" stroke="#cc0033" stroke-width="1.45"/>
<rect x="566.82" y="282.50" width="6.90" height="43.98" fill="#cc0033"/>
<line x1="576.96" y1="234.4" x2="576.96" y2="239.0" stroke="#000" stroke-width="1.45"/>
<line x1="576.96" y1="321.3" x2="576.96" y2="325.7" stroke="#000" stroke-width="1.45"/>
<rect x="574.21" y="239.54" width="5.50" height="81.26" fill="#fff" stroke="#000" stroke-width="1.45"/>
<line x1="583.64" y1="247.8" x2="583.64" y2="263.0" stroke="#cc0033" stroke-width="1.45"/>
<line x1="583.64" y1="269.4" x2="583.64" y2="287.3" stroke="#cc0033" stroke-width="1.45"/>
<rect x="580.89" y="263.47" width="5.50" height="5.43" fill="#fff" stroke="#cc0033" stroke-width="1.45"/>
<line x1="590.33" y1="257.1" x2="590.33" y2="312.3" stroke="#cc0033" stroke-width="1.45"/>
<rect x="586.88" y="283.74" width="6.90" height="1.7" fill="#cc0033"/>
<line x1="597.01" y1="229.0" x2="597.01" y2="240.5" stroke="#000" stroke-width="1.45"/>
<line x1="597.01" y1="297.5" x2="597.01" y2="304.6" stroke="#000" stroke-width="1.45"/>
<rect x="594.26" y="241.00" width="5.50" height="56.00" fill="#fff" stroke="#000" stroke-width="1.45"/>
<line x1="603.69" y1="202.1" x2="603.69" y2="261.7" stroke="#cc0033" stroke-width="1.45"/>
<rect x="600.24" y="241.10" width="6.90" height="12.48" fill="#cc0033"/>
<line x1="610.38" y1="246.3" x2="610.38" y2="296.5" stroke="#cc0033" stroke-width="1.45"/>
<rect x="606.93" y="259.80" width="6.90" height="34.51" fill="#cc0033"/>
<line x1="617.06" y1="292.1" x2="617.06" y2="359.2" stroke="#cc0033" stroke-width="1.45"/>
<rect x="613.61" y="295.90" width="6.90" height="55.34" fill="#cc0033"/>
<line x1="623.75" y1="242.5" x2="623.75" y2="268.1" stroke="#000" stroke-width="1.45"/>
<line x1="623.75" y1="343.5" x2="623.75" y2="345.8" stroke="#000" stroke-width="1.45"/>
<rect x="621.00" y="268.64" width="5.50" height="74.36" fill="#fff" stroke="#000" stroke-width="1.45"/>
<line x1="630.43" y1="217.1" x2="630.43" y2="287.3" stroke="#cc0033" stroke-width="1.45"/>
<rect x="626.98" y="254.60" width="6.90" height="26.88" fill="#cc0033"/>
<line x1="637.12" y1="215.5" x2="637.12" y2="224.4" stroke="#000" stroke-width="1.45"/>
<line x1="637.12" y1="258.4" x2="637.12" y2="258.4" stroke="#000" stroke-width="1.45"/>
<rect x="634.37" y="224.93" width="5.50" height="32.97" fill="#fff" stroke="#000" stroke-width="1.45"/>
<line x1="643.80" y1="222.5" x2="643.80" y2="255.2" stroke="#cc0033" stroke-width="1.45"/>
<rect x="640.35" y="237.30" width="6.90" height="8.21" fill="#cc0033"/>
<line x1="650.49" y1="227.7" x2="650.49" y2="275.2" stroke="#cc0033" stroke-width="1.45"/>
<rect x="647.04" y="245.90" width="6.90" height="4.93" fill="#cc0033"/>
<line x1="657.17" y1="223.2" x2="657.17" y2="261.7" stroke="#cc0033" stroke-width="1.45"/>
<rect x="653.72" y="235.90" width="6.90" height="24.89" fill="#cc0033"/>
<line x1="663.86" y1="267.5" x2="663.86" y2="300.2" stroke="#cc0033" stroke-width="1.45"/>
<rect x="660.41" y="269.00" width="6.90" height="30.62" fill="#cc0033"/>
<line x1="670.54" y1="279.6" x2="670.54" y2="322.5" stroke="#cc0033" stroke-width="1.45"/>
<rect x="667.09" y="284.00" width="6.90" height="35.78" fill="#cc0033"/>
<line x1="677.23" y1="324.0" x2="677.23" y2="349.8" stroke="#cc0033" stroke-width="1.45"/>
<rect x="673.78" y="325.20" width="6.90" height="15.33" fill="#cc0033"/>
<line x1="683.91" y1="263.6" x2="683.91" y2="271.3" stroke="#000" stroke-width="1.45"/>
<line x1="683.91" y1="331.5" x2="683.91" y2="339.6" stroke="#000" stroke-width="1.45"/>
<rect x="681.16" y="271.77" width="5.50" height="59.23" fill="#fff" stroke="#000" stroke-width="1.45"/>
<line x1="690.60" y1="243.6" x2="690.60" y2="296.9" stroke="#cc0033" stroke-width="1.45"/>
<rect x="687.15" y="266.70" width="6.90" height="26.23" fill="#cc0033"/>
<line x1="697.28" y1="246.3" x2="697.28" y2="291.8" stroke="#000" stroke-width="1.45"/>
<line x1="697.28" y1="300.6" x2="697.28" y2="311.3" stroke="#000" stroke-width="1.45"/>
<rect x="694.53" y="292.32" width="5.50" height="7.78" fill="#fff" stroke="#000" stroke-width="1.45"/>
<line x1="703.97" y1="278.2" x2="703.97" y2="309.0" stroke="#cc0033" stroke-width="1.45"/>
<rect x="700.52" y="297.50" width="6.90" height="7.63" fill="#cc0033"/>
<line x1="710.65" y1="269.0" x2="710.65" y2="297.5" stroke="#000" stroke-width="1.45"/>
<rect x="707.20" y="290.57" width="6.90" height="2.4" fill="#000"/>
<line x1="717.34" y1="279.6" x2="717.34" y2="310.3" stroke="#cc0033" stroke-width="1.45"/>
<rect x="713.89" y="293.00" width="6.90" height="13.70" fill="#cc0033"/>
<line x1="724.02" y1="304.0" x2="724.02" y2="325.8" stroke="#cc0033" stroke-width="1.45"/>
<rect x="720.57" y="305.20" width="6.90" height="14.14" fill="#cc0033"/>
<line x1="730.71" y1="317.0" x2="730.71" y2="348.0" stroke="#cc0033" stroke-width="1.45"/>
<rect x="727.26" y="318.60" width="6.90" height="27.88" fill="#cc0033"/>
<line x1="737.39" y1="306.1" x2="737.39" y2="342.0" stroke="#000" stroke-width="1.45"/>
<rect x="733.94" y="319.60" width="6.90" height="19.53" fill="#000"/>
<line x1="744.08" y1="315.7" x2="744.08" y2="352.5" stroke="#cc0033" stroke-width="1.45"/>
<rect x="740.63" y="341.50" width="6.90" height="5.45" fill="#cc0033"/>
<line x1="750.76" y1="334.5" x2="750.76" y2="368.8" stroke="#cc0033" stroke-width="1.45"/>
<rect x="747.31" y="344.80" width="6.90" height="17.76" fill="#cc0033"/>
<line x1="757.45" y1="341.9" x2="757.45" y2="362.5" stroke="#000" stroke-width="1.45"/>
<rect x="754.00" y="358.40" width="6.90" height="3.01" fill="#000"/>
<line x1="764.13" y1="345.4" x2="764.13" y2="360.8" stroke="#000" stroke-width="1.45"/>
<rect x="760.68" y="351.90" width="6.90" height="4.96" fill="#000"/>
<line x1="770.82" y1="339.6" x2="770.82" y2="376.9" stroke="#cc0033" stroke-width="1.45"/>
<rect x="767.37" y="349.20" width="6.90" height="25.01" fill="#cc0033"/>
<line x1="777.50" y1="361.2" x2="777.50" y2="379.4" stroke="#cc0033" stroke-width="1.45"/>
<rect x="774.05" y="367.90" width="6.90" height="7.33" fill="#cc0033"/>
<line x1="784.19" y1="338.5" x2="784.19" y2="340.7" stroke="#000" stroke-width="1.45"/>
<line x1="784.19" y1="369.2" x2="784.19" y2="378.1" stroke="#000" stroke-width="1.45"/>
<rect x="781.44" y="341.18" width="5.50" height="27.52" fill="#fff" stroke="#000" stroke-width="1.45"/>
<line x1="790.88" y1="288.6" x2="790.88" y2="315.7" stroke="#000" stroke-width="1.45"/>
<line x1="790.88" y1="337.6" x2="790.88" y2="341.9" stroke="#000" stroke-width="1.45"/>
<rect x="788.12" y="316.16" width="5.50" height="20.94" fill="#fff" stroke="#000" stroke-width="1.45"/>
<line x1="797.56" y1="219.0" x2="797.56" y2="233.0" stroke="#000" stroke-width="1.45"/>
<line x1="797.56" y1="265.5" x2="797.56" y2="267.5" stroke="#000" stroke-width="1.45"/>
<rect x="794.81" y="233.54" width="5.50" height="31.46" fill="#fff" stroke="#000" stroke-width="1.45"/>
<line x1="804.25" y1="232.5" x2="804.25" y2="257.8" stroke="#cc0033" stroke-width="1.45"/>
<rect x="800.79" y="244.80" width="6.90" height="4.41" fill="#cc0033"/>
<line x1="810.93" y1="247.3" x2="810.93" y2="315.3" stroke="#cc0033" stroke-width="1.45"/>
<rect x="807.48" y="251.10" width="6.90" height="38.11" fill="#cc0033"/>
<line x1="817.62" y1="221.7" x2="817.62" y2="246.0" stroke="#000" stroke-width="1.45"/>
<line x1="817.62" y1="278.6" x2="817.62" y2="278.6" stroke="#000" stroke-width="1.45"/>
<rect x="814.87" y="246.50" width="5.50" height="31.60" fill="#fff" stroke="#000" stroke-width="1.45"/>
<line x1="824.30" y1="240.5" x2="824.30" y2="278.0" stroke="#cc0033" stroke-width="1.45"/>
<rect x="820.85" y="245.90" width="6.90" height="23.15" fill="#cc0033"/>
<line x1="830.99" y1="273.0" x2="830.99" y2="294.0" stroke="#cc0033" stroke-width="1.45"/>
<rect x="827.53" y="274.20" width="6.90" height="7.28" fill="#cc0033"/>
<line x1="837.67" y1="261.7" x2="837.67" y2="301.0" stroke="#cc0033" stroke-width="1.45"/>
<rect x="834.22" y="263.60" width="6.90" height="34.89" fill="#cc0033"/>
<line x1="844.36" y1="286.3" x2="844.36" y2="302.1" stroke="#000" stroke-width="1.45"/>
<rect x="840.90" y="292.80" width="6.90" height="4.30" fill="#000"/>
<line x1="851.04" y1="287.1" x2="851.04" y2="330.0" stroke="#cc0033" stroke-width="1.45"/>
<rect x="847.59" y="295.90" width="6.90" height="27.44" fill="#cc0033"/>
<line x1="857.73" y1="302.1" x2="857.73" y2="328.5" stroke="#cc0033" stroke-width="1.45"/>
<rect x="854.27" y="305.90" width="6.90" height="21.63" fill="#cc0033"/>
<line x1="864.41" y1="301.1" x2="864.41" y2="306.8" stroke="#000" stroke-width="1.45"/>
<line x1="864.41" y1="327.9" x2="864.41" y2="335.5" stroke="#000" stroke-width="1.45"/>
<rect x="861.66" y="307.35" width="5.50" height="20.05" fill="#fff" stroke="#000" stroke-width="1.45"/>
<line x1="871.10" y1="291.5" x2="871.10" y2="314.0" stroke="#cc0033" stroke-width="1.45"/>
<rect x="867.64" y="299.60" width="6.90" height="10.12" fill="#cc0033"/>
<line x1="877.78" y1="280.9" x2="877.78" y2="308.8" stroke="#000" stroke-width="1.45"/>
<rect x="874.33" y="292.00" width="6.90" height="9.87" fill="#000"/>
<rect x="879.86" y="288.10" width="9.2" height="32.95" fill="#ffee33"/>
<line x1="884.46" y1="289.6" x2="884.46" y2="320.1" stroke="#cc0033" stroke-width="1.45"/>
<rect x="881.01" y="290.40" width="6.90" height="28.35" fill="#cc0033"/>
</g>
<polyline fill="none" stroke="#000099" stroke-width="1.4" stroke-linejoin="round" points="22.1,463.2 28.8,462.8 35.5,462.3 42.2,461.7 48.8,461.1 55.5,460.3 62.2,459.4 68.9,458.3 75.6,457.0 82.3,455.7 88.9,454.4 95.6,453.2 102.3,452.0 109.0,450.8 115.7,449.3 122.4,447.3 129.1,444.0 135.7,439.1 142.4,433.7 149.1,429.0 155.8,425.1 162.5,419.0 169.2,413.4 175.9,410.1 182.5,407.7 189.2,405.5 195.9,403.8 202.6,402.3 209.3,401.0 216.0,400.4 222.6,403.2 229.3,404.1 236.0,404.6 242.7,405.0 249.4,405.6 256.1,408.0 262.8,409.8 269.4,408.6 276.1,405.8 282.8,402.2 289.5,396.6 296.2,393.5 302.9,390.8 309.6,387.0 316.2,383.1 322.9,380.2 329.6,377.5 336.3,373.3 343.0,366.3 349.7,362.0 356.4,357.2 363.0,353.1 369.7,348.7 376.4,344.2 383.1,340.2 389.8,337.1 396.5,334.4 403.1,333.2 409.8,332.0 416.5,330.7 423.2,329.4 429.9,328.4 436.6,327.5 443.3,327.7 449.9,327.8 456.6,328.8 463.3,329.8 470.0,331.6 476.7,334.8 483.4,337.5 490.1,340.3 496.7,343.5 503.4,346.5 510.1,347.5 516.8,347.7 523.5,347.7 530.2,347.5 536.8,348.2 543.5,348.8 550.2,349.6 556.9,349.2 563.6,346.6 570.3,345.6 577.0,343.7 583.6,342.7 590.3,341.3 597.0,338.5 603.7,337.2 610.4,336.7 617.1,337.8 623.8,337.7 630.4,337.8 637.1,335.6 643.8,334.7 650.5,334.9 657.2,334.6 663.9,335.1 670.5,336.5 677.2,339.7 683.9,341.0 690.6,342.0 697.3,342.2 704.0,342.9 710.7,343.6 717.3,344.1 724.0,343.8 730.7,343.8 737.4,343.1 744.1,342.4 750.8,341.9 757.4,341.5 764.1,340.4 770.8,339.4 777.5,338.1 784.2,335.9 790.9,333.3 797.6,329.2 804.2,325.3 810.9,322.0 817.6,318.5 824.3,315.8 831.0,313.3 837.7,311.0 844.4,309.7 851.0,308.8 857.7,307.4 864.4,305.7 871.1,304.0 877.8,302.0 884.5,299.9"/>
<polyline fill="none" stroke="#d9143f" stroke-width="1.35" stroke-linejoin="round" points="22.1,477.8 28.8,478.2 35.5,478.6 42.2,478.8 48.8,479.0 55.5,479.1 62.2,479.1 68.9,479.0 75.6,479.0 82.3,478.9 88.9,478.9 95.6,478.9 102.3,479.0 109.0,479.0 115.7,479.1 122.4,479.1 129.1,478.8 135.7,478.0 142.4,476.4 149.1,474.4 155.8,472.8 162.5,471.2 169.2,469.9 175.9,468.7 182.5,467.7 189.2,467.1 195.9,466.6 202.6,466.3 209.3,466.1 216.0,465.9 222.6,465.5 229.3,464.9 236.0,464.2 242.7,463.0 249.4,461.7 256.1,460.8 262.8,460.2 269.4,459.5 276.1,458.7 282.8,457.6 289.5,456.3 296.2,455.4 302.9,455.0 309.6,454.6 316.2,452.6 322.9,451.3 329.6,450.3 336.3,449.4 343.0,448.3 349.7,447.1 356.4,445.8 363.0,444.5 369.7,443.1 376.4,441.8 383.1,440.5 389.8,439.3 396.5,438.5 403.1,437.9 409.8,437.2 416.5,436.5 423.2,435.8 429.9,435.0 436.6,434.2 443.3,433.7 449.9,433.4 456.6,433.4 463.3,433.3 470.0,433.2 476.7,432.9 483.4,432.2 490.1,431.4 496.7,430.9 503.4,430.4 510.1,430.0 516.8,429.5 523.5,429.0 530.2,428.5 536.8,428.1 543.5,427.8 550.2,427.5 556.9,427.0 563.6,426.4 570.3,425.6 577.0,424.5 583.6,423.0 590.3,421.3 597.0,419.6 603.7,418.1 610.4,416.7 617.1,415.4 623.8,414.1 630.4,412.9 637.1,411.7 643.8,410.7 650.5,409.7 657.2,408.8 663.9,407.9 670.5,407.0 677.2,405.9 683.9,404.9 690.6,403.8 697.3,402.6 704.0,401.5 710.7,400.3 717.3,399.2 724.0,398.2 730.7,397.4 737.4,396.7 744.1,396.2 750.8,395.8 757.4,395.3 764.1,394.8 770.8,394.1 777.5,393.2 784.2,392.2 790.9,391.1 797.6,390.0 804.2,388.8 810.9,387.3 817.6,385.9 824.3,384.5 831.0,383.3 837.7,382.4 844.4,381.5 851.0,380.8 857.7,380.0 864.4,379.2 871.1,378.5 877.8,377.9 884.5,377.5"/>
<rect x="22.0" y="168.0" width="872.0" height="371.5" fill="none" stroke="#bdbdbd" stroke-width="1.2"/>
<text x="898.5" y="191.2" style="font-family:'Liberation Sans',Arial,sans-serif;font-size:13px;letter-spacing:0.4px;fill:#000">38</text>
<text x="898.5" y="213.1" style="font-family:'Liberation Sans',Arial,sans-serif;font-size:13px;letter-spacing:0.4px;fill:#000">36</text>
<text x="898.5" y="236.3" style="font-family:'Liberation Sans',Arial,sans-serif;font-size:13px;letter-spacing:0.4px;fill:#000">34</text>
<text x="898.5" y="260.9" style="font-family:'Liberation Sans',Arial,sans-serif;font-size:13px;letter-spacing:0.4px;fill:#000">32</text>
<text x="898.5" y="287.0" style="font-family:'Liberation Sans',Arial,sans-serif;font-size:13px;letter-spacing:0.4px;fill:#000">30</text>
<text x="898.5" y="315.0" style="font-family:'Liberation Sans',Arial,sans-serif;font-size:13px;letter-spacing:0.4px;fill:#000">28</text>
<text x="898.5" y="345.1" style="font-family:'Liberation Sans',Arial,sans-serif;font-size:13px;letter-spacing:0.4px;fill:#000">26</text>
<text x="898.5" y="412.8" style="font-family:'Liberation Sans',Arial,sans-serif;font-size:13px;letter-spacing:0.4px;fill:#000">22</text>
<text x="898.5" y="451.5" style="font-family:'Liberation Sans',Arial,sans-serif;font-size:13px;letter-spacing:0.4px;fill:#000">20</text>
<text x="898.5" y="494.2" style="font-family:'Liberation Sans',Arial,sans-serif;font-size:13px;letter-spacing:0.4px;fill:#000">18</text>
<line x1="88.95" y1="558.3" x2="88.95" y2="688.5" stroke="#dfdfdf" stroke-width="1.0"/>
<line x1="122.38" y1="558.3" x2="122.38" y2="688.5" stroke="#dfdfdf" stroke-width="1.0"/>
<line x1="149.11" y1="558.3" x2="149.11" y2="688.5" stroke="#dfdfdf" stroke-width="1.0"/>
<line x1="182.54" y1="558.3" x2="182.54" y2="688.5" stroke="#dfdfdf" stroke-width="1.0"/>
<line x1="215.96" y1="558.3" x2="215.96" y2="688.5" stroke="#dfdfdf" stroke-width="1.0"/>
<line x1="249.39" y1="558.3" x2="249.39" y2="688.5" stroke="#dfdfdf" stroke-width="1.0"/>
<line x1="282.81" y1="558.3" x2="282.81" y2="688.5" stroke="#dfdfdf" stroke-width="1.0"/>
<line x1="309.56" y1="558.3" x2="309.56" y2="688.5" stroke="#dfdfdf" stroke-width="1.0"/>
<line x1="342.98" y1="558.3" x2="342.98" y2="688.5" stroke="#dfdfdf" stroke-width="1.0"/>
<line x1="376.41" y1="558.3" x2="376.41" y2="688.5" stroke="#dfdfdf" stroke-width="1.0"/>
<line x1="409.83" y1="558.3" x2="409.83" y2="688.5" stroke="#dfdfdf" stroke-width="1.0"/>
<line x1="443.25" y1="558.3" x2="443.25" y2="688.5" stroke="#dfdfdf" stroke-width="1.0"/>
<line x1="476.68" y1="558.3" x2="476.68" y2="688.5" stroke="#dfdfdf" stroke-width="1.0"/>
<line x1="510.11" y1="558.3" x2="510.11" y2="688.5" stroke="#dfdfdf" stroke-width="1.0"/>
<line x1="536.85" y1="558.3" x2="536.85" y2="688.5" stroke="#dfdfdf" stroke-width="1.0"/>
<line x1="570.27" y1="558.3" x2="570.27" y2="688.5" stroke="#dfdfdf" stroke-width="1.0"/>
<line x1="637.12" y1="558.3" x2="637.12" y2="688.5" stroke="#dfdfdf" stroke-width="1.0"/>
<line x1="670.54" y1="558.3" x2="670.54" y2="688.5" stroke="#dfdfdf" stroke-width="1.0"/>
<line x1="703.97" y1="558.3" x2="703.97" y2="688.5" stroke="#dfdfdf" stroke-width="1.0"/>
<line x1="737.39" y1="558.3" x2="737.39" y2="688.5" stroke="#dfdfdf" stroke-width="1.0"/>
<line x1="764.13" y1="558.3" x2="764.13" y2="688.5" stroke="#dfdfdf" stroke-width="1.0"/>
<line x1="797.56" y1="558.3" x2="797.56" y2="688.5" stroke="#dfdfdf" stroke-width="1.0"/>
<line x1="830.99" y1="558.3" x2="830.99" y2="688.5" stroke="#dfdfdf" stroke-width="1.0"/>
<line x1="857.73" y1="558.3" x2="857.73" y2="688.5" stroke="#dfdfdf" stroke-width="1.0"/>
<line x1="55.52" y1="558.3" x2="55.52" y2="688.5" stroke="#cacaca" stroke-width="1.3"/>
<line x1="189.22" y1="558.3" x2="189.22" y2="688.5" stroke="#cacaca" stroke-width="1.3"/>
<line x1="316.24" y1="558.3" x2="316.24" y2="688.5" stroke="#cacaca" stroke-width="1.3"/>
<line x1="470.00" y1="558.3" x2="470.00" y2="688.5" stroke="#cacaca" stroke-width="1.3"/>
<line x1="603.69" y1="558.3" x2="603.69" y2="688.5" stroke="#cacaca" stroke-width="1.3"/>
<line x1="744.08" y1="558.3" x2="744.08" y2="688.5" stroke="#cacaca" stroke-width="1.3"/>
<line x1="884.46" y1="558.3" x2="884.46" y2="688.5" stroke="#cacaca" stroke-width="1.3"/>
<line x1="22.0" y1="669.60" x2="894.0" y2="669.60" stroke="#e5e5e5" stroke-width="1.0" />
<line x1="22.0" y1="648.80" x2="894.0" y2="648.80" stroke="#e5e5e5" stroke-width="1.0" />
<line x1="22.0" y1="628.00" x2="894.0" y2="628.00" stroke="#e5e5e5" stroke-width="1.0" />
<line x1="22.0" y1="607.20" x2="894.0" y2="607.20" stroke="#e5e5e5" stroke-width="1.0" />
<line x1="22.0" y1="586.40" x2="894.0" y2="586.40" stroke="#e5e5e5" stroke-width="1.0" />
<line x1="22.0" y1="565.60" x2="894.0" y2="565.60" stroke="#e5e5e5" stroke-width="1.0" />
<line x1="894.0" y1="669.60" x2="897.4" y2="669.60" stroke="#c4c4c4" stroke-width="1"/>
<line x1="894.0" y1="648.80" x2="897.4" y2="648.80" stroke="#c4c4c4" stroke-width="1"/>
<line x1="894.0" y1="628.00" x2="897.4" y2="628.00" stroke="#c4c4c4" stroke-width="1"/>
<line x1="894.0" y1="607.20" x2="897.4" y2="607.20" stroke="#c4c4c4" stroke-width="1"/>
<line x1="894.0" y1="586.40" x2="897.4" y2="586.40" stroke="#c4c4c4" stroke-width="1"/>
<line x1="894.0" y1="565.60" x2="897.4" y2="565.60" stroke="#c4c4c4" stroke-width="1"/>
<line x1="894.0" y1="680.00" x2="896.4" y2="680.00" stroke="#d2d2d2" stroke-width="1"/>
<line x1="894.0" y1="659.20" x2="896.4" y2="659.20" stroke="#d2d2d2" stroke-width="1"/>
<line x1="894.0" y1="638.40" x2="896.4" y2="638.40" stroke="#d2d2d2" stroke-width="1"/>
<line x1="894.0" y1="617.60" x2="896.4" y2="617.60" stroke="#d2d2d2" stroke-width="1"/>
<line x1="894.0" y1="596.80" x2="896.4" y2="596.80" stroke="#d2d2d2" stroke-width="1"/>
<line x1="894.0" y1="576.00" x2="896.4" y2="576.00" stroke="#d2d2d2" stroke-width="1"/>
<clipPath id="cm"><rect x="22.0" y="558.3" width="872.0" height="130.20000000000005"/></clipPath>
<g clip-path="url(#cm)">
<rect x="19.26" y="628.00" width="6.68" height="13.73" fill="#58a6d4" stroke="#1c6690" stroke-width="1.3"/>
<rect x="25.94" y="628.00" width="6.68" height="13.79" fill="#58a6d4" stroke="#1c6690" stroke-width="1.3"/>
<rect x="32.63" y="628.00" width="6.68" height="13.89" fill="#58a6d4" stroke="#1c6690" stroke-width="1.3"/>
<rect x="39.31" y="628.00" width="6.68" height="12.69" fill="#58a6d4" stroke="#1c6690" stroke-width="1.3"/>
<rect x="46.00" y="628.00" width="6.68" height="11.36" fill="#58a6d4" stroke="#1c6690" stroke-width="1.3"/>
<rect x="52.68" y="628.00" width="6.68" height="10.66" fill="#58a6d4" stroke="#1c6690" stroke-width="1.3"/>
<rect x="59.37" y="628.00" width="6.68" height="9.15" fill="#58a6d4" stroke="#1c6690" stroke-width="1.3"/>
<rect x="66.05" y="628.00" width="6.68" height="3.85" fill="#58a6d4" stroke="#1c6690" stroke-width="1.3"/>
<rect x="72.74" y="628.00" width="6.68" height="0.34" fill="#58a6d4" stroke="#1c6690" stroke-width="1.3"/>
<rect x="79.42" y="627.11" width="6.68" height="0.89" fill="#58a6d4" stroke="#1c6690" stroke-width="1.3"/>
<rect x="86.11" y="625.40" width="6.68" height="2.60" fill="#58a6d4" stroke="#1c6690" stroke-width="1.3"/>
<rect x="92.79" y="625.65" width="6.68" height="2.35" fill="#58a6d4" stroke="#1c6690" stroke-width="1.3"/>
<rect x="99.48" y="626.85" width="6.68" height="1.15" fill="#58a6d4" stroke="#1c6690" stroke-width="1.3"/>
<rect x="106.16" y="623.96" width="6.68" height="4.04" fill="#58a6d4" stroke="#1c6690" stroke-width="1.3"/>
<rect x="112.85" y="623.74" width="6.68" height="4.26" fill="#58a6d4" stroke="#1c6690" stroke-width="1.3"/>
<rect x="119.53" y="618.94" width="6.68" height="9.06" fill="#58a6d4" stroke="#1c6690" stroke-width="1.3"/>
<rect x="126.22" y="614.91" width="6.68" height="13.09" fill="#58a6d4" stroke="#1c6690" stroke-width="1.3"/>
<rect x="132.90" y="610.71" width="6.68" height="17.29" fill="#58a6d4" stroke="#1c6690" stroke-width="1.3"/>
<rect x="139.59" y="604.64" width="6.68" height="23.36" fill="#58a6d4" stroke="#1c6690" stroke-width="1.3"/>
<rect x="146.27" y="600.70" width="6.68" height="27.30" fill="#58a6d4" stroke="#1c6690" stroke-width="1.3"/>
<rect x="152.96" y="598.09" width="6.68" height="29.91" fill="#58a6d4" stroke="#1c6690" stroke-width="1.3"/>
<rect x="159.64" y="597.13" width="6.68" height="30.87" fill="#58a6d4" stroke="#1c6690" stroke-width="1.3"/>
<rect x="166.33" y="600.34" width="6.68" height="27.66" fill="#58a6d4" stroke="#1c6690" stroke-width="1.3"/>
<rect x="173.01" y="607.85" width="6.68" height="20.15" fill="#58a6d4" stroke="#1c6690" stroke-width="1.3"/>
<rect x="179.70" y="617.73" width="6.68" height="10.27" fill="#58a6d4" stroke="#1c6690" stroke-width="1.3"/>
<rect x="186.38" y="628.00" width="6.68" height="0.63" fill="#58a6d4" stroke="#1c6690" stroke-width="1.3"/>
<rect x="193.07" y="628.00" width="6.68" height="7.63" fill="#58a6d4" stroke="#1c6690" stroke-width="1.3"/>
<rect x="199.75" y="628.00" width="6.68" height="8.97" fill="#58a6d4" stroke="#1c6690" stroke-width="1.3"/>
<rect x="206.44" y="628.00" width="6.68" height="11.17" fill="#58a6d4" stroke="#1c6690" stroke-width="1.3"/>
<rect x="213.12" y="628.00" width="6.68" height="12.75" fill="#58a6d4" stroke="#1c6690" stroke-width="1.3"/>
<rect x="219.81" y="628.00" width="6.68" height="15.23" fill="#58a6d4" stroke="#1c6690" stroke-width="1.3"/>
<rect x="226.49" y="628.00" width="6.68" height="18.19" fill="#58a6d4" stroke="#1c6690" stroke-width="1.3"/>
<rect x="233.18" y="628.00" width="6.68" height="14.06" fill="#58a6d4" stroke="#1c6690" stroke-width="1.3"/>
<rect x="239.86" y="628.00" width="6.68" height="6.31" fill="#58a6d4" stroke="#1c6690" stroke-width="1.3"/>
<rect x="246.55" y="628.00" width="6.68" height="0.00" fill="#58a6d4" stroke="#1c6690" stroke-width="1.3"/>
<rect x="253.23" y="627.68" width="6.68" height="0.32" fill="#58a6d4" stroke="#1c6690" stroke-width="1.3"/>
<rect x="259.92" y="628.00" width="6.68" height="1.53" fill="#58a6d4" stroke="#1c6690" stroke-width="1.3"/>
<rect x="266.60" y="625.69" width="6.68" height="2.31" fill="#58a6d4" stroke="#1c6690" stroke-width="1.3"/>
<rect x="273.29" y="624.04" width="6.68" height="3.96" fill="#58a6d4" stroke="#1c6690" stroke-width="1.3"/>
<rect x="279.97" y="621.97" width="6.68" height="6.03" fill="#58a6d4" stroke="#1c6690" stroke-width="1.3"/>
<rect x="286.66" y="618.23" width="6.68" height="9.77" fill="#58a6d4" stroke="#1c6690" stroke-width="1.3"/>
<rect x="293.34" y="617.54" width="6.68" height="10.46" fill="#58a6d4" stroke="#1c6690" stroke-width="1.3"/>
<rect x="300.03" y="621.50" width="6.68" height="6.50" fill="#58a6d4" stroke="#1c6690" stroke-width="1.3"/>
<rect x="306.71" y="621.16" width="6.68" height="6.84" fill="#58a6d4" stroke="#1c6690" stroke-width="1.3"/>
<rect x="313.40" y="617.36" width="6.68" height="10.64" fill="#58a6d4" stroke="#1c6690" stroke-width="1.3"/>
<rect x="320.08" y="619.24" width="6.68" height="8.76" fill="#58a6d4" stroke="#1c6690" stroke-width="1.3"/>
<rect x="326.77" y="621.52" width="6.68" height="6.48" fill="#58a6d4" stroke="#1c6690" stroke-width="1.3"/>
<rect x="333.45" y="621.62" width="6.68" height="6.38" fill="#58a6d4" stroke="#1c6690" stroke-width="1.3"/>
<rect x="340.14" y="616.41" width="6.68" height="11.59" fill="#58a6d4" stroke="#1c6690" stroke-width="1.3"/>
<rect x="346.82" y="615.86" width="6.68" height="12.14" fill="#58a6d4" stroke="#1c6690" stroke-width="1.3"/>
<rect x="353.51" y="620.09" width="6.68" height="7.91" fill="#58a6d4" stroke="#1c6690" stroke-width="1.3"/>
<rect x="360.19" y="626.51" width="6.68" height="1.49" fill="#58a6d4" stroke="#1c6690" stroke-width="1.3"/>
<rect x="366.88" y="628.00" width="6.68" height="2.32" fill="#58a6d4" stroke="#1c6690" stroke-width="1.3"/>
<rect x="373.56" y="628.00" width="6.68" height="3.64" fill="#58a6d4" stroke="#1c6690" stroke-width="1.3"/>
<rect x="380.25" y="628.00" width="6.68" height="7.24" fill="#58a6d4" stroke="#1c6690" stroke-width="1.3"/>
<rect x="386.93" y="628.00" width="6.68" height="13.68" fill="#58a6d4" stroke="#1c6690" stroke-width="1.3"/>
<rect x="393.62" y="628.00" width="6.68" height="18.68" fill="#58a6d4" stroke="#1c6690" stroke-width="1.3"/>
<rect x="400.30" y="628.00" width="6.68" height="23.52" fill="#58a6d4" stroke="#1c6690" stroke-width="1.3"/>
<rect x="406.99" y="628.00" width="6.68" height="26.02" fill="#58a6d4" stroke="#1c6690" stroke-width="1.3"/>
<rect x="413.67" y="628.00" width="6.68" height="27.20" fill="#58a6d4" stroke="#1c6690" stroke-width="1.3"/>
<rect x="420.36" y="628.00" width="6.68" height="25.80" fill="#58a6d4" stroke="#1c6690" stroke-width="1.3"/>
<rect x="427.04" y="628.00" width="6.68" height="26.16" fill="#58a6d4" stroke="#1c6690" stroke-width="1.3"/>
<rect x="433.73" y="628.00" width="6.68" height="26.16" fill="#58a6d4" stroke="#1c6690" stroke-width="1.3"/>
<rect x="440.41" y="628.00" width="6.68" height="26.31" fill="#58a6d4" stroke="#1c6690" stroke-width="1.3"/>
<rect x="447.10" y="628.00" width="6.68" height="25.88" fill="#58a6d4" stroke="#1c6690" stroke-width="1.3"/>
<rect x="453.78" y="628.00" width="6.68" height="23.51" fill="#58a6d4" stroke="#1c6690" stroke-width="1.3"/>
<rect x="460.47" y="628.00" width="6.68" height="18.94" fill="#58a6d4" stroke="#1c6690" stroke-width="1.3"/>
<rect x="467.15" y="628.00" width="6.68" height="16.05" fill="#58a6d4" stroke="#1c6690" stroke-width="1.3"/>
<rect x="473.84" y="628.00" width="6.68" height="14.49" fill="#58a6d4" stroke="#1c6690" stroke-width="1.3"/>
<rect x="480.52" y="628.00" width="6.68" height="9.16" fill="#58a6d4" stroke="#1c6690" stroke-width="1.3"/>
<rect x="487.21" y="628.00" width="6.68" height="3.56" fill="#58a6d4" stroke="#1c6690" stroke-width="1.3"/>
<rect x="493.89" y="628.00" width="6.68" height="0.23" fill="#58a6d4" stroke="#1c6690" stroke-width="1.3"/>
<rect x="500.58" y="626.28" width="6.68" height="1.72" fill="#58a6d4" stroke="#1c6690" stroke-width="1.3"/>
<rect x="507.26" y="620.52" width="6.68" height="7.48" fill="#58a6d4" stroke="#1c6690" stroke-width="1.3"/>
<rect x="513.95" y="617.11" width="6.68" height="10.89" fill="#58a6d4" stroke="#1c6690" stroke-width="1.3"/>
<rect x="520.63" y="618.46" width="6.68" height="9.54" fill="#58a6d4" stroke="#1c6690" stroke-width="1.3"/>
<rect x="527.32" y="618.33" width="6.68" height="9.67" fill="#58a6d4" stroke="#1c6690" stroke-width="1.3"/>
<rect x="534.00" y="619.19" width="6.68" height="8.81" fill="#58a6d4" stroke="#1c6690" stroke-width="1.3"/>
<rect x="540.69" y="621.00" width="6.68" height="7.00" fill="#58a6d4" stroke="#1c6690" stroke-width="1.3"/>
<rect x="547.37" y="623.65" width="6.68" height="4.35" fill="#58a6d4" stroke="#1c6690" stroke-width="1.3"/>
<rect x="554.06" y="622.17" width="6.68" height="5.83" fill="#58a6d4" stroke="#1c6690" stroke-width="1.3"/>
<rect x="560.74" y="614.00" width="6.68" height="14.00" fill="#58a6d4" stroke="#1c6690" stroke-width="1.3"/>
<rect x="567.43" y="611.00" width="6.68" height="17.00" fill="#58a6d4" stroke="#1c6690" stroke-width="1.3"/>
<rect x="574.11" y="601.24" width="6.68" height="26.76" fill="#58a6d4" stroke="#1c6690" stroke-width="1.3"/>
<rect x="580.80" y="598.98" width="6.68" height="29.02" fill="#58a6d4" stroke="#1c6690" stroke-width="1.3"/>
<rect x="587.48" y="601.21" width="6.68" height="26.79" fill="#58a6d4" stroke="#1c6690" stroke-width="1.3"/>
<rect x="594.17" y="599.53" width="6.68" height="28.47" fill="#58a6d4" stroke="#1c6690" stroke-width="1.3"/>
<rect x="600.85" y="601.47" width="6.68" height="26.53" fill="#58a6d4" stroke="#1c6690" stroke-width="1.3"/>
<rect x="607.54" y="608.36" width="6.68" height="19.64" fill="#58a6d4" stroke="#1c6690" stroke-width="1.3"/>
<rect x="614.22" y="618.99" width="6.68" height="9.01" fill="#58a6d4" stroke="#1c6690" stroke-width="1.3"/>
<rect x="620.91" y="618.69" width="6.68" height="9.31" fill="#58a6d4" stroke="#1c6690" stroke-width="1.3"/>
<rect x="627.59" y="620.59" width="6.68" height="7.41" fill="#58a6d4" stroke="#1c6690" stroke-width="1.3"/>
<rect x="634.28" y="616.38" width="6.68" height="11.62" fill="#58a6d4" stroke="#1c6690" stroke-width="1.3"/>
<rect x="640.96" y="616.98" width="6.68" height="11.02" fill="#58a6d4" stroke="#1c6690" stroke-width="1.3"/>
<rect x="647.65" y="618.83" width="6.68" height="9.17" fill="#58a6d4" stroke="#1c6690" stroke-width="1.3"/>
<rect x="654.33" y="621.86" width="6.68" height="6.14" fill="#58a6d4" stroke="#1c6690" stroke-width="1.3"/>
<rect x="661.02" y="628.00" width="6.68" height="0.29" fill="#58a6d4" stroke="#1c6690" stroke-width="1.3"/>
<rect x="667.70" y="628.00" width="6.68" height="6.52" fill="#58a6d4" stroke="#1c6690" stroke-width="1.3"/>
<rect x="674.39" y="628.00" width="6.68" height="12.24" fill="#58a6d4" stroke="#1c6690" stroke-width="1.3"/>
<rect x="681.07" y="628.00" width="6.68" height="9.04" fill="#58a6d4" stroke="#1c6690" stroke-width="1.3"/>
<rect x="687.76" y="628.00" width="6.68" height="9.00" fill="#58a6d4" stroke="#1c6690" stroke-width="1.3"/>
<rect x="694.44" y="628.00" width="6.68" height="8.66" fill="#58a6d4" stroke="#1c6690" stroke-width="1.3"/>
<rect x="701.13" y="628.00" width="6.68" height="9.51" fill="#58a6d4" stroke="#1c6690" stroke-width="1.3"/>
<rect x="707.81" y="628.00" width="6.68" height="8.49" fill="#58a6d4" stroke="#1c6690" stroke-width="1.3"/>
<rect x="714.50" y="628.00" width="6.68" height="9.05" fill="#58a6d4" stroke="#1c6690" stroke-width="1.3"/>
<rect x="721.18" y="628.00" width="6.68" height="10.27" fill="#58a6d4" stroke="#1c6690" stroke-width="1.3"/>
<rect x="727.87" y="628.00" width="6.68" height="13.03" fill="#58a6d4" stroke="#1c6690" stroke-width="1.3"/>
<rect x="734.55" y="628.00" width="6.68" height="13.58" fill="#58a6d4" stroke="#1c6690" stroke-width="1.3"/>
<rect x="741.24" y="628.00" width="6.68" height="13.99" fill="#58a6d4" stroke="#1c6690" stroke-width="1.3"/>
<rect x="747.92" y="628.00" width="6.68" height="14.88" fill="#58a6d4" stroke="#1c6690" stroke-width="1.3"/>
<rect x="754.61" y="628.00" width="6.68" height="14.60" fill="#58a6d4" stroke="#1c6690" stroke-width="1.3"/>
<rect x="761.29" y="628.00" width="6.68" height="13.30" fill="#58a6d4" stroke="#1c6690" stroke-width="1.3"/>
<rect x="767.98" y="628.00" width="6.68" height="13.15" fill="#58a6d4" stroke="#1c6690" stroke-width="1.3"/>
<rect x="774.66" y="628.00" width="6.68" height="12.40" fill="#58a6d4" stroke="#1c6690" stroke-width="1.3"/>
<rect x="781.35" y="628.00" width="6.68" height="8.37" fill="#58a6d4" stroke="#1c6690" stroke-width="1.3"/>
<rect x="788.03" y="628.00" width="6.68" height="3.10" fill="#58a6d4" stroke="#1c6690" stroke-width="1.3"/>
<rect x="794.72" y="619.21" width="6.68" height="8.79" fill="#58a6d4" stroke="#1c6690" stroke-width="1.3"/>
<rect x="801.40" y="613.89" width="6.68" height="14.11" fill="#58a6d4" stroke="#1c6690" stroke-width="1.3"/>
<rect x="808.09" y="615.32" width="6.68" height="12.68" fill="#58a6d4" stroke="#1c6690" stroke-width="1.3"/>
<rect x="814.77" y="612.43" width="6.68" height="15.57" fill="#58a6d4" stroke="#1c6690" stroke-width="1.3"/>
<rect x="821.46" y="613.86" width="6.68" height="14.14" fill="#58a6d4" stroke="#1c6690" stroke-width="1.3"/>
<rect x="828.14" y="616.79" width="6.68" height="11.21" fill="#58a6d4" stroke="#1c6690" stroke-width="1.3"/>
<rect x="834.83" y="620.93" width="6.68" height="7.07" fill="#58a6d4" stroke="#1c6690" stroke-width="1.3"/>
<rect x="841.51" y="623.84" width="6.68" height="4.16" fill="#58a6d4" stroke="#1c6690" stroke-width="1.3"/>
<rect x="848.20" y="628.00" width="6.68" height="0.39" fill="#58a6d4" stroke="#1c6690" stroke-width="1.3"/>
<rect x="854.88" y="628.00" width="6.68" height="3.69" fill="#58a6d4" stroke="#1c6690" stroke-width="1.3"/>
<rect x="861.57" y="628.00" width="6.68" height="3.77" fill="#58a6d4" stroke="#1c6690" stroke-width="1.3"/>
<rect x="868.25" y="628.00" width="6.68" height="3.97" fill="#58a6d4" stroke="#1c6690" stroke-width="1.3"/>
<rect x="874.94" y="628.00" width="6.68" height="3.22" fill="#58a6d4" stroke="#1c6690" stroke-width="1.3"/>
<rect x="881.62" y="628.00" width="6.68" height="4.19" fill="#58a6d4" stroke="#1c6690" stroke-width="1.3"/>
<polyline fill="none" stroke="#ff1a1a" stroke-width="1.35" stroke-linejoin="round" points="22.1,624.5 28.8,627.9 35.5,631.4 42.2,634.6 48.8,637.4 55.5,640.1 62.2,642.3 68.9,643.3 75.6,643.4 82.3,643.2 88.9,642.5 95.6,641.9 102.3,641.6 109.0,640.6 115.7,639.6 122.4,637.3 129.1,634.0 135.7,629.7 142.4,623.9 149.1,617.1 155.8,609.6 162.5,601.9 169.2,594.9 175.9,589.9 182.5,587.3 189.2,587.5 195.9,589.4 202.6,591.6 209.3,594.4 216.0,597.6 222.6,601.4 229.3,606.0 236.0,609.5 242.7,611.1 249.4,611.1 256.1,611.0 262.8,611.4 269.4,610.8 276.1,609.8 282.8,608.3 289.5,605.9 296.2,603.2 302.9,601.6 309.6,599.9 316.2,597.2 322.9,595.1 329.6,593.4 336.3,591.8 343.0,588.9 349.7,585.9 356.4,583.9 363.0,583.6 369.7,584.1 376.4,585.0 383.1,586.9 389.8,590.3 396.5,594.9 403.1,600.8 409.8,607.3 416.5,614.1 423.2,620.6 429.9,627.1 436.6,633.7 443.3,640.2 449.9,646.7 456.6,652.6 463.3,657.3 470.0,661.3 476.7,665.0 483.4,667.2 490.1,668.1 496.7,668.2 503.4,667.8 510.1,665.9 516.8,663.2 523.5,660.8 530.2,658.4 536.8,656.2 543.5,654.4 550.2,653.3 556.9,651.9 563.6,648.4 570.3,644.1 577.0,637.4 583.6,630.2 590.3,623.5 597.0,616.4 603.7,609.7 610.4,604.8 617.1,602.6 623.8,600.2 630.4,598.4 637.1,595.5 643.8,592.7 650.5,590.4 657.2,588.9 663.9,589.0 670.5,590.6 677.2,593.7 683.9,595.9 690.6,598.2 697.3,600.3 704.0,602.7 710.7,604.8 717.3,607.1 724.0,609.7 730.7,612.9 737.4,616.3 744.1,619.8 750.8,623.5 757.4,627.2 764.1,630.5 770.8,633.8 777.5,636.9 784.2,639.0 790.9,639.8 797.6,637.6 804.2,634.0 810.9,630.9 817.6,627.0 824.3,623.4 831.0,620.6 837.7,618.9 844.4,617.8 851.0,617.9 857.7,618.9 864.4,619.8 871.1,620.8 877.8,621.6 884.5,622.6"/>
<polyline fill="none" stroke="#0a0a0a" stroke-width="2.25" stroke-linejoin="round" points="22.1,638.2 28.8,641.7 35.5,645.3 42.2,647.2 48.8,648.8 55.5,650.7 62.2,651.5 68.9,647.2 75.6,643.7 82.3,642.3 88.9,639.9 95.6,639.6 102.3,640.5 109.0,636.6 115.7,635.3 122.4,628.2 129.1,621.0 135.7,612.4 142.4,600.5 149.1,589.8 155.8,579.7 162.5,571.0 169.2,567.3 175.9,569.8 182.5,577.1 189.2,588.1 195.9,597.0 202.6,600.6 209.3,605.6 216.0,610.4 222.6,616.7 229.3,624.2 236.0,623.6 242.7,617.4 249.4,611.1 256.1,610.7 262.8,612.9 269.4,608.5 276.1,605.8 282.8,602.3 289.5,596.1 296.2,592.8 302.9,595.1 309.6,593.1 316.2,586.6 322.9,586.3 329.6,587.0 336.3,585.5 343.0,577.3 349.7,573.8 356.4,576.0 363.0,582.1 369.7,586.5 376.4,588.7 383.1,594.1 389.8,604.0 396.5,613.6 403.1,624.3 409.8,633.4 416.5,641.3 423.2,646.4 429.9,653.3 436.6,659.8 443.3,666.5 449.9,672.6 456.6,676.1 463.3,676.3 470.0,677.4 476.7,679.5 483.4,676.4 490.1,671.7 496.7,668.4 503.4,666.0 510.1,658.4 516.8,652.3 523.5,651.2 530.2,648.7 536.8,647.4 543.5,647.4 550.2,649.0 556.9,646.0 563.6,634.4 570.3,627.1 577.0,610.7 583.6,601.2 590.3,596.7 597.0,587.9 603.7,583.2 610.4,585.2 617.1,593.6 623.8,590.9 630.4,591.0 637.1,583.9 643.8,581.7 650.5,581.3 657.2,582.8 663.9,589.3 670.5,597.1 677.2,605.9 683.9,605.0 690.6,607.2 697.3,609.0 704.0,612.2 710.7,613.3 717.3,616.1 724.0,619.9 730.7,625.9 737.4,629.9 744.1,633.8 750.8,638.4 757.4,641.8 764.1,643.8 770.8,646.9 777.5,649.3 784.2,647.4 790.9,642.9 797.6,628.8 804.2,619.9 810.9,618.2 817.6,611.4 824.3,609.3 831.0,609.4 837.7,611.8 844.4,613.7 851.0,618.3 857.7,622.5 864.4,623.6 871.1,624.8 877.8,624.8 884.5,626.8"/>
</g>
<rect x="22.0" y="558.3" width="872.0" height="130.20000000000005" fill="none" stroke="#bdbdbd" stroke-width="1.2"/>
<text x="902.0" y="568.8" style="font-family:'Liberation Sans',Arial,sans-serif;font-size:13px;letter-spacing:0.4px;fill:#000">3</text>
<text x="902.0" y="589.6" style="font-family:'Liberation Sans',Arial,sans-serif;font-size:13px;letter-spacing:0.4px;fill:#000">2</text>
<text x="902.0" y="610.4" style="font-family:'Liberation Sans',Arial,sans-serif;font-size:13px;letter-spacing:0.4px;fill:#000">1</text>
<text x="898.5" y="652.0" style="font-family:'Liberation Sans',Arial,sans-serif;font-size:13px;letter-spacing:0.4px;fill:#000">-1</text>
<text x="898.5" y="672.8" style="font-family:'Liberation Sans',Arial,sans-serif;font-size:13px;letter-spacing:0.4px;fill:#000">-2</text>
<line x1="22.10" y1="539.5" x2="22.10" y2="542.1" stroke="#cacaca" stroke-width="1.1"/>
<line x1="28.79" y1="539.5" x2="28.79" y2="542.1" stroke="#cacaca" stroke-width="1.1"/>
<line x1="35.47" y1="539.5" x2="35.47" y2="542.1" stroke="#cacaca" stroke-width="1.1"/>
<line x1="42.16" y1="539.5" x2="42.16" y2="542.1" stroke="#cacaca" stroke-width="1.1"/>
<line x1="48.84" y1="539.5" x2="48.84" y2="542.1" stroke="#cacaca" stroke-width="1.1"/>
<line x1="55.52" y1="539.5" x2="55.52" y2="542.1" stroke="#cacaca" stroke-width="1.1"/>
<line x1="62.21" y1="539.5" x2="62.21" y2="542.1" stroke="#cacaca" stroke-width="1.1"/>
<line x1="68.89" y1="539.5" x2="68.89" y2="542.1" stroke="#cacaca" stroke-width="1.1"/>
<line x1="75.58" y1="539.5" x2="75.58" y2="542.1" stroke="#cacaca" stroke-width="1.1"/>
<line x1="82.27" y1="539.5" x2="82.27" y2="542.1" stroke="#cacaca" stroke-width="1.1"/>
<line x1="88.95" y1="539.5" x2="88.95" y2="542.1" stroke="#cacaca" stroke-width="1.1"/>
<line x1="95.63" y1="539.5" x2="95.63" y2="542.1" stroke="#cacaca" stroke-width="1.1"/>
<line x1="102.32" y1="539.5" x2="102.32" y2="542.1" stroke="#cacaca" stroke-width="1.1"/>
<line x1="109.00" y1="539.5" x2="109.00" y2="542.1" stroke="#cacaca" stroke-width="1.1"/>
<line x1="115.69" y1="539.5" x2="115.69" y2="542.1" stroke="#cacaca" stroke-width="1.1"/>
<line x1="122.38" y1="539.5" x2="122.38" y2="542.1" stroke="#cacaca" stroke-width="1.1"/>
<line x1="129.06" y1="539.5" x2="129.06" y2="542.1" stroke="#cacaca" stroke-width="1.1"/>
<line x1="135.75" y1="539.5" x2="135.75" y2="542.1" stroke="#cacaca" stroke-width="1.1"/>
<line x1="142.43" y1="539.5" x2="142.43" y2="542.1" stroke="#cacaca" stroke-width="1.1"/>
<line x1="149.11" y1="539.5" x2="149.11" y2="542.1" stroke="#cacaca" stroke-width="1.1"/>
<line x1="155.80" y1="539.5" x2="155.80" y2="542.1" stroke="#cacaca" stroke-width="1.1"/>
<line x1="162.48" y1="539.5" x2="162.48" y2="542.1" stroke="#cacaca" stroke-width="1.1"/>
<line x1="169.17" y1="539.5" x2="169.17" y2="542.1" stroke="#cacaca" stroke-width="1.1"/>
<line x1="175.85" y1="539.5" x2="175.85" y2="542.1" stroke="#cacaca" stroke-width="1.1"/>
<line x1="182.54" y1="539.5" x2="182.54" y2="542.1" stroke="#cacaca" stroke-width="1.1"/>
<line x1="189.22" y1="539.5" x2="189.22" y2="542.1" stroke="#cacaca" stroke-width="1.1"/>
<line x1="195.91" y1="539.5" x2="195.91" y2="542.1" stroke="#cacaca" stroke-width="1.1"/>
<line x1="202.59" y1="539.5" x2="202.59" y2="542.1" stroke="#cacaca" stroke-width="1.1"/>
<line x1="209.28" y1="539.5" x2="209.28" y2="542.1" stroke="#cacaca" stroke-width="1.1"/>
<line x1="215.96" y1="539.5" x2="215.96" y2="542.1" stroke="#cacaca" stroke-width="1.1"/>
<line x1="222.65" y1="539.5" x2="222.65" y2="542.1" stroke="#cacaca" stroke-width="1.1"/>
<line x1="229.33" y1="539.5" x2="229.33" y2="542.1" stroke="#cacaca" stroke-width="1.1"/>
<line x1="236.02" y1="539.5" x2="236.02" y2="542.1" stroke="#cacaca" stroke-width="1.1"/>
<line x1="242.70" y1="539.5" x2="242.70" y2="542.1" stroke="#cacaca" stroke-width="1.1"/>
<line x1="249.39" y1="539.5" x2="249.39" y2="542.1" stroke="#cacaca" stroke-width="1.1"/>
<line x1="256.07" y1="539.5" x2="256.07" y2="542.1" stroke="#cacaca" stroke-width="1.1"/>
<line x1="262.76" y1="539.5" x2="262.76" y2="542.1" stroke="#cacaca" stroke-width="1.1"/>
<line x1="269.44" y1="539.5" x2="269.44" y2="542.1" stroke="#cacaca" stroke-width="1.1"/>
<line x1="276.13" y1="539.5" x2="276.13" y2="542.1" stroke="#cacaca" stroke-width="1.1"/>
<line x1="282.81" y1="539.5" x2="282.81" y2="542.1" stroke="#cacaca" stroke-width="1.1"/>
<line x1="289.50" y1="539.5" x2="289.50" y2="542.1" stroke="#cacaca" stroke-width="1.1"/>
<line x1="296.19" y1="539.5" x2="296.19" y2="542.1" stroke="#cacaca" stroke-width="1.1"/>
<line x1="302.87" y1="539.5" x2="302.87" y2="542.1" stroke="#cacaca" stroke-width="1.1"/>
<line x1="309.56" y1="539.5" x2="309.56" y2="542.1" stroke="#cacaca" stroke-width="1.1"/>
<line x1="316.24" y1="539.5" x2="316.24" y2="542.1" stroke="#cacaca" stroke-width="1.1"/>
<line x1="322.93" y1="539.5" x2="322.93" y2="542.1" stroke="#cacaca" stroke-width="1.1"/>
<line x1="329.61" y1="539.5" x2="329.61" y2="542.1" stroke="#cacaca" stroke-width="1.1"/>
<line x1="336.30" y1="539.5" x2="336.30" y2="542.1" stroke="#cacaca" stroke-width="1.1"/>
<line x1="342.98" y1="539.5" x2="342.98" y2="542.1" stroke="#cacaca" stroke-width="1.1"/>
<line x1="349.67" y1="539.5" x2="349.67" y2="542.1" stroke="#cacaca" stroke-width="1.1"/>
<line x1="356.35" y1="539.5" x2="356.35" y2="542.1" stroke="#cacaca" stroke-width="1.1"/>
<line x1="363.04" y1="539.5" x2="363.04" y2="542.1" stroke="#cacaca" stroke-width="1.1"/>
<line x1="369.72" y1="539.5" x2="369.72" y2="542.1" stroke="#cacaca" stroke-width="1.1"/>
<line x1="376.41" y1="539.5" x2="376.41" y2="542.1" stroke="#cacaca" stroke-width="1.1"/>
<line x1="383.09" y1="539.5" x2="383.09" y2="542.1" stroke="#cacaca" stroke-width="1.1"/>
<line x1="389.77" y1="539.5" x2="389.77" y2="542.1" stroke="#cacaca" stroke-width="1.1"/>
<line x1="396.46" y1="539.5" x2="396.46" y2="542.1" stroke="#cacaca" stroke-width="1.1"/>
<line x1="403.14" y1="539.5" x2="403.14" y2="542.1" stroke="#cacaca" stroke-width="1.1"/>
<line x1="409.83" y1="539.5" x2="409.83" y2="542.1" stroke="#cacaca" stroke-width="1.1"/>
<line x1="416.51" y1="539.5" x2="416.51" y2="542.1" stroke="#cacaca" stroke-width="1.1"/>
<line x1="423.20" y1="539.5" x2="423.20" y2="542.1" stroke="#cacaca" stroke-width="1.1"/>
<line x1="429.88" y1="539.5" x2="429.88" y2="542.1" stroke="#cacaca" stroke-width="1.1"/>
<line x1="436.57" y1="539.5" x2="436.57" y2="542.1" stroke="#cacaca" stroke-width="1.1"/>
<line x1="443.25" y1="539.5" x2="443.25" y2="542.1" stroke="#cacaca" stroke-width="1.1"/>
<line x1="449.94" y1="539.5" x2="449.94" y2="542.1" stroke="#cacaca" stroke-width="1.1"/>
<line x1="456.62" y1="539.5" x2="456.62" y2="542.1" stroke="#cacaca" stroke-width="1.1"/>
<line x1="463.31" y1="539.5" x2="463.31" y2="542.1" stroke="#cacaca" stroke-width="1.1"/>
<line x1="470.00" y1="539.5" x2="470.00" y2="542.1" stroke="#cacaca" stroke-width="1.1"/>
<line x1="476.68" y1="539.5" x2="476.68" y2="542.1" stroke="#cacaca" stroke-width="1.1"/>
<line x1="483.37" y1="539.5" x2="483.37" y2="542.1" stroke="#cacaca" stroke-width="1.1"/>
<line x1="490.05" y1="539.5" x2="490.05" y2="542.1" stroke="#cacaca" stroke-width="1.1"/>
<line x1="496.74" y1="539.5" x2="496.74" y2="542.1" stroke="#cacaca" stroke-width="1.1"/>
<line x1="503.42" y1="539.5" x2="503.42" y2="542.1" stroke="#cacaca" stroke-width="1.1"/>
<line x1="510.11" y1="539.5" x2="510.11" y2="542.1" stroke="#cacaca" stroke-width="1.1"/>
<line x1="516.79" y1="539.5" x2="516.79" y2="542.1" stroke="#cacaca" stroke-width="1.1"/>
<line x1="523.47" y1="539.5" x2="523.47" y2="542.1" stroke="#cacaca" stroke-width="1.1"/>
<line x1="530.16" y1="539.5" x2="530.16" y2="542.1" stroke="#cacaca" stroke-width="1.1"/>
<line x1="536.85" y1="539.5" x2="536.85" y2="542.1" stroke="#cacaca" stroke-width="1.1"/>
<line x1="543.53" y1="539.5" x2="543.53" y2="542.1" stroke="#cacaca" stroke-width="1.1"/>
<line x1="550.22" y1="539.5" x2="550.22" y2="542.1" stroke="#cacaca" stroke-width="1.1"/>
<line x1="556.90" y1="539.5" x2="556.90" y2="542.1" stroke="#cacaca" stroke-width="1.1"/>
<line x1="563.59" y1="539.5" x2="563.59" y2="542.1" stroke="#cacaca" stroke-width="1.1"/>
<line x1="570.27" y1="539.5" x2="570.27" y2="542.1" stroke="#cacaca" stroke-width="1.1"/>
<line x1="576.96" y1="539.5" x2="576.96" y2="542.1" stroke="#cacaca" stroke-width="1.1"/>
<line x1="583.64" y1="539.5" x2="583.64" y2="542.1" stroke="#cacaca" stroke-width="1.1"/>
<line x1="590.33" y1="539.5" x2="590.33" y2="542.1" stroke="#cacaca" stroke-width="1.1"/>
<line x1="597.01" y1="539.5" x2="597.01" y2="542.1" stroke="#cacaca" stroke-width="1.1"/>
<line x1="603.69" y1="539.5" x2="603.69" y2="542.1" stroke="#cacaca" stroke-width="1.1"/>
<line x1="610.38" y1="539.5" x2="610.38" y2="542.1" stroke="#cacaca" stroke-width="1.1"/>
<line x1="617.06" y1="539.5" x2="617.06" y2="542.1" stroke="#cacaca" stroke-width="1.1"/>
<line x1="623.75" y1="539.5" x2="623.75" y2="542.1" stroke="#cacaca" stroke-width="1.1"/>
<line x1="630.43" y1="539.5" x2="630.43" y2="542.1" stroke="#cacaca" stroke-width="1.1"/>
<line x1="637.12" y1="539.5" x2="637.12" y2="542.1" stroke="#cacaca" stroke-width="1.1"/>
<line x1="643.80" y1="539.5" x2="643.80" y2="542.1" stroke="#cacaca" stroke-width="1.1"/>
<line x1="650.49" y1="539.5" x2="650.49" y2="542.1" stroke="#cacaca" stroke-width="1.1"/>
<line x1="657.17" y1="539.5" x2="657.17" y2="542.1" stroke="#cacaca" stroke-width="1.1"/>
<line x1="663.86" y1="539.5" x2="663.86" y2="542.1" stroke="#cacaca" stroke-width="1.1"/>
<line x1="670.54" y1="539.5" x2="670.54" y2="542.1" stroke="#cacaca" stroke-width="1.1"/>
<line x1="677.23" y1="539.5" x2="677.23" y2="542.1" stroke="#cacaca" stroke-width="1.1"/>
<line x1="683.91" y1="539.5" x2="683.91" y2="542.1" stroke="#cacaca" stroke-width="1.1"/>
<line x1="690.60" y1="539.5" x2="690.60" y2="542.1" stroke="#cacaca" stroke-width="1.1"/>
<line x1="697.28" y1="539.5" x2="697.28" y2="542.1" stroke="#cacaca" stroke-width="1.1"/>
<line x1="703.97" y1="539.5" x2="703.97" y2="542.1" stroke="#cacaca" stroke-width="1.1"/>
<line x1="710.65" y1="539.5" x2="710.65" y2="542.1" stroke="#cacaca" stroke-width="1.1"/>
<line x1="717.34" y1="539.5" x2="717.34" y2="542.1" stroke="#cacaca" stroke-width="1.1"/>
<line x1="724.02" y1="539.5" x2="724.02" y2="542.1" stroke="#cacaca" stroke-width="1.1"/>
<line x1="730.71" y1="539.5" x2="730.71" y2="542.1" stroke="#cacaca" stroke-width="1.1"/>
<line x1="737.39" y1="539.5" x2="737.39" y2="542.1" stroke="#cacaca" stroke-width="1.1"/>
<line x1="744.08" y1="539.5" x2="744.08" y2="542.1" stroke="#cacaca" stroke-width="1.1"/>
<line x1="750.76" y1="539.5" x2="750.76" y2="542.1" stroke="#cacaca" stroke-width="1.1"/>
<line x1="757.45" y1="539.5" x2="757.45" y2="542.1" stroke="#cacaca" stroke-width="1.1"/>
<line x1="764.13" y1="539.5" x2="764.13" y2="542.1" stroke="#cacaca" stroke-width="1.1"/>
<line x1="770.82" y1="539.5" x2="770.82" y2="542.1" stroke="#cacaca" stroke-width="1.1"/>
<line x1="777.50" y1="539.5" x2="777.50" y2="542.1" stroke="#cacaca" stroke-width="1.1"/>
<line x1="784.19" y1="539.5" x2="784.19" y2="542.1" stroke="#cacaca" stroke-width="1.1"/>
<line x1="790.88" y1="539.5" x2="790.88" y2="542.1" stroke="#cacaca" stroke-width="1.1"/>
<line x1="797.56" y1="539.5" x2="797.56" y2="542.1" stroke="#cacaca" stroke-width="1.1"/>
<line x1="804.25" y1="539.5" x2="804.25" y2="542.1" stroke="#cacaca" stroke-width="1.1"/>
<line x1="810.93" y1="539.5" x2="810.93" y2="542.1" stroke="#cacaca" stroke-width="1.1"/>
<line x1="817.62" y1="539.5" x2="817.62" y2="542.1" stroke="#cacaca" stroke-width="1.1"/>
<line x1="824.30" y1="539.5" x2="824.30" y2="542.1" stroke="#cacaca" stroke-width="1.1"/>
<line x1="830.99" y1="539.5" x2="830.99" y2="542.1" stroke="#cacaca" stroke-width="1.1"/>
<line x1="837.67" y1="539.5" x2="837.67" y2="542.1" stroke="#cacaca" stroke-width="1.1"/>
<line x1="844.36" y1="539.5" x2="844.36" y2="542.1" stroke="#cacaca" stroke-width="1.1"/>
<line x1="851.04" y1="539.5" x2="851.04" y2="542.1" stroke="#cacaca" stroke-width="1.1"/>
<line x1="857.73" y1="539.5" x2="857.73" y2="542.1" stroke="#cacaca" stroke-width="1.1"/>
<line x1="864.41" y1="539.5" x2="864.41" y2="542.1" stroke="#cacaca" stroke-width="1.1"/>
<line x1="871.10" y1="539.5" x2="871.10" y2="542.1" stroke="#cacaca" stroke-width="1.1"/>
<line x1="877.78" y1="539.5" x2="877.78" y2="542.1" stroke="#cacaca" stroke-width="1.1"/>
<line x1="884.46" y1="539.5" x2="884.46" y2="542.1" stroke="#cacaca" stroke-width="1.1"/>
<text x="20.5" y="553.7" text-anchor="middle" style="font-family:'Liberation Sans',Arial,sans-serif;font-size:13.6px;fill:#000">27</text>
<text x="38.5" y="553.7" textLength="31" lengthAdjust="spacingAndGlyphs" style="font-family:'Liberation Sans',Arial,sans-serif;font-size:14.2px;font-weight:bold;fill:#000">2022</text>
<text x="88.5" y="553.7" text-anchor="middle" style="font-family:'Liberation Sans',Arial,sans-serif;font-size:13.6px;fill:#000">10</text>
<text x="122.0" y="553.7" text-anchor="middle" style="font-family:'Liberation Sans',Arial,sans-serif;font-size:13.6px;fill:#000">18</text>
<text x="148.7" y="553.7" text-anchor="middle" style="font-family:'Liberation Sans',Arial,sans-serif;font-size:13.6px;fill:#000">24</text>
<text x="177.1" y="553.7" textLength="23.5" lengthAdjust="spacingAndGlyphs" style="font-family:'Liberation Sans',Arial,sans-serif;font-size:14.2px;font-weight:bold;fill:#000">Feb</text>
<text x="215.6" y="553.7" text-anchor="middle" style="font-family:'Liberation Sans',Arial,sans-serif;font-size:13.6px;fill:#000">7</text>
<text x="249.0" y="553.7" text-anchor="middle" style="font-family:'Liberation Sans',Arial,sans-serif;font-size:13.6px;fill:#000">14</text>
<text x="282.4" y="553.7" text-anchor="middle" style="font-family:'Liberation Sans',Arial,sans-serif;font-size:13.6px;fill:#000">22</text>
<text x="302.3" y="553.7" textLength="27" lengthAdjust="spacingAndGlyphs" style="font-family:'Liberation Sans',Arial,sans-serif;font-size:14.2px;font-weight:bold;fill:#000">Mar</text>
<text x="342.6" y="553.7" text-anchor="middle" style="font-family:'Liberation Sans',Arial,sans-serif;font-size:13.6px;fill:#000">7</text>
<text x="376.0" y="553.7" text-anchor="middle" style="font-family:'Liberation Sans',Arial,sans-serif;font-size:13.6px;fill:#000">14</text>
<text x="409.4" y="553.7" text-anchor="middle" style="font-family:'Liberation Sans',Arial,sans-serif;font-size:13.6px;fill:#000">21</text>
<text x="442.9" y="553.7" text-anchor="middle" style="font-family:'Liberation Sans',Arial,sans-serif;font-size:13.6px;fill:#000">28</text>
<text x="456.9" y="553.7" textLength="25.3" lengthAdjust="spacingAndGlyphs" style="font-family:'Liberation Sans',Arial,sans-serif;font-size:14.2px;font-weight:bold;fill:#000">Apr</text>
<text x="509.7" y="553.7" text-anchor="middle" style="font-family:'Liberation Sans',Arial,sans-serif;font-size:13.6px;fill:#000">11</text>
<text x="536.4" y="553.7" text-anchor="middle" style="font-family:'Liberation Sans',Arial,sans-serif;font-size:13.6px;fill:#000">18</text>
<text x="569.9" y="553.7" text-anchor="middle" style="font-family:'Liberation Sans',Arial,sans-serif;font-size:13.6px;fill:#000">25</text>
<text x="589.0" y="553.7" textLength="28.5" lengthAdjust="spacingAndGlyphs" style="font-family:'Liberation Sans',Arial,sans-serif;font-size:14.2px;font-weight:bold;fill:#000">May</text>
<text x="636.7" y="553.7" text-anchor="middle" style="font-family:'Liberation Sans',Arial,sans-serif;font-size:13.6px;fill:#000">9</text>
<text x="670.1" y="553.7" text-anchor="middle" style="font-family:'Liberation Sans',Arial,sans-serif;font-size:13.6px;fill:#000">16</text>
<text x="703.6" y="553.7" text-anchor="middle" style="font-family:'Liberation Sans',Arial,sans-serif;font-size:13.6px;fill:#000">23</text>
<text x="733.1" y="553.7" textLength="26" lengthAdjust="spacingAndGlyphs" style="font-family:'Liberation Sans',Arial,sans-serif;font-size:14.2px;font-weight:bold;fill:#000">Jun</text>
<text x="763.4" y="553.7" text-anchor="middle" style="font-family:'Liberation Sans',Arial,sans-serif;font-size:13.6px;fill:#000">6</text>
<text x="797.2" y="553.7" text-anchor="middle" style="font-family:'Liberation Sans',Arial,sans-serif;font-size:13.6px;fill:#000">13</text>
<text x="829.8" y="553.7" text-anchor="middle" style="font-family:'Liberation Sans',Arial,sans-serif;font-size:13.6px;fill:#000">21</text>
<text x="857.3" y="553.7" text-anchor="middle" style="font-family:'Liberation Sans',Arial,sans-serif;font-size:13.6px;fill:#000">27</text>
<text x="874.8" y="553.7" textLength="20.5" lengthAdjust="spacingAndGlyphs" style="font-family:'Liberation Sans',Arial,sans-serif;font-size:14.2px;font-weight:bold;fill:#000">Jul</text>
<line x1="22.10" y1="688.5" x2="22.10" y2="691.1" stroke="#cacaca" stroke-width="1.1"/>
<line x1="28.79" y1="688.5" x2="28.79" y2="691.1" stroke="#cacaca" stroke-width="1.1"/>
<line x1="35.47" y1="688.5" x2="35.47" y2="691.1" stroke="#cacaca" stroke-width="1.1"/>
<line x1="42.16" y1="688.5" x2="42.16" y2="691.1" stroke="#cacaca" stroke-width="1.1"/>
<line x1="48.84" y1="688.5" x2="48.84" y2="691.1" stroke="#cacaca" stroke-width="1.1"/>
<line x1="55.52" y1="688.5" x2="55.52" y2="691.1" stroke="#cacaca" stroke-width="1.1"/>
<line x1="62.21" y1="688.5" x2="62.21" y2="691.1" stroke="#cacaca" stroke-width="1.1"/>
<line x1="68.89" y1="688.5" x2="68.89" y2="691.1" stroke="#cacaca" stroke-width="1.1"/>
<line x1="75.58" y1="688.5" x2="75.58" y2="691.1" stroke="#cacaca" stroke-width="1.1"/>
<line x1="82.27" y1="688.5" x2="82.27" y2="691.1" stroke="#cacaca" stroke-width="1.1"/>
<line x1="88.95" y1="688.5" x2="88.95" y2="691.1" stroke="#cacaca" stroke-width="1.1"/>
<line x1="95.63" y1="688.5" x2="95.63" y2="691.1" stroke="#cacaca" stroke-width="1.1"/>
<line x1="102.32" y1="688.5" x2="102.32" y2="691.1" stroke="#cacaca" stroke-width="1.1"/>
<line x1="109.00" y1="688.5" x2="109.00" y2="691.1" stroke="#cacaca" stroke-width="1.1"/>
<line x1="115.69" y1="688.5" x2="115.69" y2="691.1" stroke="#cacaca" stroke-width="1.1"/>
<line x1="122.38" y1="688.5" x2="122.38" y2="691.1" stroke="#cacaca" stroke-width="1.1"/>
<line x1="129.06" y1="688.5" x2="129.06" y2="691.1" stroke="#cacaca" stroke-width="1.1"/>
<line x1="135.75" y1="688.5" x2="135.75" y2="691.1" stroke="#cacaca" stroke-width="1.1"/>
<line x1="142.43" y1="688.5" x2="142.43" y2="691.1" stroke="#cacaca" stroke-width="1.1"/>
<line x1="149.11" y1="688.5" x2="149.11" y2="691.1" stroke="#cacaca" stroke-width="1.1"/>
<line x1="155.80" y1="688.5" x2="155.80" y2="691.1" stroke="#cacaca" stroke-width="1.1"/>
<line x1="162.48" y1="688.5" x2="162.48" y2="691.1" stroke="#cacaca" stroke-width="1.1"/>
<line x1="169.17" y1="688.5" x2="169.17" y2="691.1" stroke="#cacaca" stroke-width="1.1"/>
<line x1="175.85" y1="688.5" x2="175.85" y2="691.1" stroke="#cacaca" stroke-width="1.1"/>
<line x1="182.54" y1="688.5" x2="182.54" y2="691.1" stroke="#cacaca" stroke-width="1.1"/>
<line x1="189.22" y1="688.5" x2="189.22" y2="691.1" stroke="#cacaca" stroke-width="1.1"/>
<line x1="195.91" y1="688.5" x2="195.91" y2="691.1" stroke="#cacaca" stroke-width="1.1"/>
<line x1="202.59" y1="688.5" x2="202.59" y2="691.1" stroke="#cacaca" stroke-width="1.1"/>
<line x1="209.28" y1="688.5" x2="209.28" y2="691.1" stroke="#cacaca" stroke-width="1.1"/>
<line x1="215.96" y1="688.5" x2="215.96" y2="691.1" stroke="#cacaca" stroke-width="1.1"/>
<line x1="222.65" y1="688.5" x2="222.65" y2="691.1" stroke="#cacaca" stroke-width="1.1"/>
<line x1="229.33" y1="688.5" x2="229.33" y2="691.1" stroke="#cacaca" stroke-width="1.1"/>
<line x1="236.02" y1="688.5" x2="236.02" y2="691.1" stroke="#cacaca" stroke-width="1.1"/>
<line x1="242.70" y1="688.5" x2="242.70" y2="691.1" stroke="#cacaca" stroke-width="1.1"/>
<line x1="249.39" y1="688.5" x2="249.39" y2="691.1" stroke="#cacaca" stroke-width="1.1"/>
<line x1="256.07" y1="688.5" x2="256.07" y2="691.1" stroke="#cacaca" stroke-width="1.1"/>
<line x1="262.76" y1="688.5" x2="262.76" y2="691.1" stroke="#cacaca" stroke-width="1.1"/>
<line x1="269.44" y1="688.5" x2="269.44" y2="691.1" stroke="#cacaca" stroke-width="1.1"/>
<line x1="276.13" y1="688.5" x2="276.13" y2="691.1" stroke="#cacaca" stroke-width="1.1"/>
<line x1="282.81" y1="688.5" x2="282.81" y2="691.1" stroke="#cacaca" stroke-width="1.1"/>
<line x1="289.50" y1="688.5" x2="289.50" y2="691.1" stroke="#cacaca" stroke-width="1.1"/>
<line x1="296.19" y1="688.5" x2="296.19" y2="691.1" stroke="#cacaca" stroke-width="1.1"/>
<line x1="302.87" y1="688.5" x2="302.87" y2="691.1" stroke="#cacaca" stroke-width="1.1"/>
<line x1="309.56" y1="688.5" x2="309.56" y2="691.1" stroke="#cacaca" stroke-width="1.1"/>
<line x1="316.24" y1="688.5" x2="316.24" y2="691.1" stroke="#cacaca" stroke-width="1.1"/>
<line x1="322.93" y1="688.5" x2="322.93" y2="691.1" stroke="#cacaca" stroke-width="1.1"/>
<line x1="329.61" y1="688.5" x2="329.61" y2="691.1" stroke="#cacaca" stroke-width="1.1"/>
<line x1="336.30" y1="688.5" x2="336.30" y2="691.1" stroke="#cacaca" stroke-width="1.1"/>
<line x1="342.98" y1="688.5" x2="342.98" y2="691.1" stroke="#cacaca" stroke-width="1.1"/>
<line x1="349.67" y1="688.5" x2="349.67" y2="691.1" stroke="#cacaca" stroke-width="1.1"/>
<line x1="356.35" y1="688.5" x2="356.35" y2="691.1" stroke="#cacaca" stroke-width="1.1"/>
<line x1="363.04" y1="688.5" x2="363.04" y2="691.1" stroke="#cacaca" stroke-width="1.1"/>
<line x1="369.72" y1="688.5" x2="369.72" y2="691.1" stroke="#cacaca" stroke-width="1.1"/>
<line x1="376.41" y1="688.5" x2="376.41" y2="691.1" stroke="#cacaca" stroke-width="1.1"/>
<line x1="383.09" y1="688.5" x2="383.09" y2="691.1" stroke="#cacaca" stroke-width="1.1"/>
<line x1="389.77" y1="688.5" x2="389.77" y2="691.1" stroke="#cacaca" stroke-width="1.1"/>
<line x1="396.46" y1="688.5" x2="396.46" y2="691.1" stroke="#cacaca" stroke-width="1.1"/>
<line x1="403.14" y1="688.5" x2="403.14" y2="691.1" stroke="#cacaca" stroke-width="1.1"/>
<line x1="409.83" y1="688.5" x2="409.83" y2="691.1" stroke="#cacaca" stroke-width="1.1"/>
<line x1="416.51" y1="688.5" x2="416.51" y2="691.1" stroke="#cacaca" stroke-width="1.1"/>
<line x1="423.20" y1="688.5" x2="423.20" y2="691.1" stroke="#cacaca" stroke-width="1.1"/>
<line x1="429.88" y1="688.5" x2="429.88" y2="691.1" stroke="#cacaca" stroke-width="1.1"/>
<line x1="436.57" y1="688.5" x2="436.57" y2="691.1" stroke="#cacaca" stroke-width="1.1"/>
<line x1="443.25" y1="688.5" x2="443.25" y2="691.1" stroke="#cacaca" stroke-width="1.1"/>
<line x1="449.94" y1="688.5" x2="449.94" y2="691.1" stroke="#cacaca" stroke-width="1.1"/>
<line x1="456.62" y1="688.5" x2="456.62" y2="691.1" stroke="#cacaca" stroke-width="1.1"/>
<line x1="463.31" y1="688.5" x2="463.31" y2="691.1" stroke="#cacaca" stroke-width="1.1"/>
<line x1="470.00" y1="688.5" x2="470.00" y2="691.1" stroke="#cacaca" stroke-width="1.1"/>
<line x1="476.68" y1="688.5" x2="476.68" y2="691.1" stroke="#cacaca" stroke-width="1.1"/>
<line x1="483.37" y1="688.5" x2="483.37" y2="691.1" stroke="#cacaca" stroke-width="1.1"/>
<line x1="490.05" y1="688.5" x2="490.05" y2="691.1" stroke="#cacaca" stroke-width="1.1"/>
<line x1="496.74" y1="688.5" x2="496.74" y2="691.1" stroke="#cacaca" stroke-width="1.1"/>
<line x1="503.42" y1="688.5" x2="503.42" y2="691.1" stroke="#cacaca" stroke-width="1.1"/>
<line x1="510.11" y1="688.5" x2="510.11" y2="691.1" stroke="#cacaca" stroke-width="1.1"/>
<line x1="516.79" y1="688.5" x2="516.79" y2="691.1" stroke="#cacaca" stroke-width="1.1"/>
<line x1="523.47" y1="688.5" x2="523.47" y2="691.1" stroke="#cacaca" stroke-width="1.1"/>
<line x1="530.16" y1="688.5" x2="530.16" y2="691.1" stroke="#cacaca" stroke-width="1.1"/>
<line x1="536.85" y1="688.5" x2="536.85" y2="691.1" stroke="#cacaca" stroke-width="1.1"/>
<line x1="543.53" y1="688.5" x2="543.53" y2="691.1" stroke="#cacaca" stroke-width="1.1"/>
<line x1="550.22" y1="688.5" x2="550.22" y2="691.1" stroke="#cacaca" stroke-width="1.1"/>
<line x1="556.90" y1="688.5" x2="556.90" y2="691.1" stroke="#cacaca" stroke-width="1.1"/>
<line x1="563.59" y1="688.5" x2="563.59" y2="691.1" stroke="#cacaca" stroke-width="1.1"/>
<line x1="570.27" y1="688.5" x2="570.27" y2="691.1" stroke="#cacaca" stroke-width="1.1"/>
<line x1="576.96" y1="688.5" x2="576.96" y2="691.1" stroke="#cacaca" stroke-width="1.1"/>
<line x1="583.64" y1="688.5" x2="583.64" y2="691.1" stroke="#cacaca" stroke-width="1.1"/>
<line x1="590.33" y1="688.5" x2="590.33" y2="691.1" stroke="#cacaca" stroke-width="1.1"/>
<line x1="597.01" y1="688.5" x2="597.01" y2="691.1" stroke="#cacaca" stroke-width="1.1"/>
<line x1="603.69" y1="688.5" x2="603.69" y2="691.1" stroke="#cacaca" stroke-width="1.1"/>
<line x1="610.38" y1="688.5" x2="610.38" y2="691.1" stroke="#cacaca" stroke-width="1.1"/>
<line x1="617.06" y1="688.5" x2="617.06" y2="691.1" stroke="#cacaca" stroke-width="1.1"/>
<line x1="623.75" y1="688.5" x2="623.75" y2="691.1" stroke="#cacaca" stroke-width="1.1"/>
<line x1="630.43" y1="688.5" x2="630.43" y2="691.1" stroke="#cacaca" stroke-width="1.1"/>
<line x1="637.12" y1="688.5" x2="637.12" y2="691.1" stroke="#cacaca" stroke-width="1.1"/>
<line x1="643.80" y1="688.5" x2="643.80" y2="691.1" stroke="#cacaca" stroke-width="1.1"/>
<line x1="650.49" y1="688.5" x2="650.49" y2="691.1" stroke="#cacaca" stroke-width="1.1"/>
<line x1="657.17" y1="688.5" x2="657.17" y2="691.1" stroke="#cacaca" stroke-width="1.1"/>
<line x1="663.86" y1="688.5" x2="663.86" y2="691.1" stroke="#cacaca" stroke-width="1.1"/>
<line x1="670.54" y1="688.5" x2="670.54" y2="691.1" stroke="#cacaca" stroke-width="1.1"/>
<line x1="677.23" y1="688.5" x2="677.23" y2="691.1" stroke="#cacaca" stroke-width="1.1"/>
<line x1="683.91" y1="688.5" x2="683.91" y2="691.1" stroke="#cacaca" stroke-width="1.1"/>
<line x1="690.60" y1="688.5" x2="690.60" y2="691.1" stroke="#cacaca" stroke-width="1.1"/>
<line x1="697.28" y1="688.5" x2="697.28" y2="691.1" stroke="#cacaca" stroke-width="1.1"/>
<line x1="703.97" y1="688.5" x2="703.97" y2="691.1" stroke="#cacaca" stroke-width="1.1"/>
<line x1="710.65" y1="688.5" x2="710.65" y2="691.1" stroke="#cacaca" stroke-width="1.1"/>
<line x1="717.34" y1="688.5" x2="717.34" y2="691.1" stroke="#cacaca" stroke-width="1.1"/>
<line x1="724.02" y1="688.5" x2="724.02" y2="691.1" stroke="#cacaca" stroke-width="1.1"/>
<line x1="730.71" y1="688.5" x2="730.71" y2="691.1" stroke="#cacaca" stroke-width="1.1"/>
<line x1="737.39" y1="688.5" x2="737.39" y2="691.1" stroke="#cacaca" stroke-width="1.1"/>
<line x1="744.08" y1="688.5" x2="744.08" y2="691.1" stroke="#cacaca" stroke-width="1.1"/>
<line x1="750.76" y1="688.5" x2="750.76" y2="691.1" stroke="#cacaca" stroke-width="1.1"/>
<line x1="757.45" y1="688.5" x2="757.45" y2="691.1" stroke="#cacaca" stroke-width="1.1"/>
<line x1="764.13" y1="688.5" x2="764.13" y2="691.1" stroke="#cacaca" stroke-width="1.1"/>
<line x1="770.82" y1="688.5" x2="770.82" y2="691.1" stroke="#cacaca" stroke-width="1.1"/>
<line x1="777.50" y1="688.5" x2="777.50" y2="691.1" stroke="#cacaca" stroke-width="1.1"/>
<line x1="784.19" y1="688.5" x2="784.19" y2="691.1" stroke="#cacaca" stroke-width="1.1"/>
<line x1="790.88" y1="688.5" x2="790.88" y2="691.1" stroke="#cacaca" stroke-width="1.1"/>
<line x1="797.56" y1="688.5" x2="797.56" y2="691.1" stroke="#cacaca" stroke-width="1.1"/>
<line x1="804.25" y1="688.5" x2="804.25" y2="691.1" stroke="#cacaca" stroke-width="1.1"/>
<line x1="810.93" y1="688.5" x2="810.93" y2="691.1" stroke="#cacaca" stroke-width="1.1"/>
<line x1="817.62" y1="688.5" x2="817.62" y2="691.1" stroke="#cacaca" stroke-width="1.1"/>
<line x1="824.30" y1="688.5" x2="824.30" y2="691.1" stroke="#cacaca" stroke-width="1.1"/>
<line x1="830.99" y1="688.5" x2="830.99" y2="691.1" stroke="#cacaca" stroke-width="1.1"/>
<line x1="837.67" y1="688.5" x2="837.67" y2="691.1" stroke="#cacaca" stroke-width="1.1"/>
<line x1="844.36" y1="688.5" x2="844.36" y2="691.1" stroke="#cacaca" stroke-width="1.1"/>
<line x1="851.04" y1="688.5" x2="851.04" y2="691.1" stroke="#cacaca" stroke-width="1.1"/>
<line x1="857.73" y1="688.5" x2="857.73" y2="691.1" stroke="#cacaca" stroke-width="1.1"/>
<line x1="864.41" y1="688.5" x2="864.41" y2="691.1" stroke="#cacaca" stroke-width="1.1"/>
<line x1="871.10" y1="688.5" x2="871.10" y2="691.1" stroke="#cacaca" stroke-width="1.1"/>
<line x1="877.78" y1="688.5" x2="877.78" y2="691.1" stroke="#cacaca" stroke-width="1.1"/>
<line x1="884.46" y1="688.5" x2="884.46" y2="691.1" stroke="#cacaca" stroke-width="1.1"/>
<text x="20.5" y="702.3" text-anchor="middle" style="font-family:'Liberation Sans',Arial,sans-serif;font-size:13.6px;fill:#000">27</text>
<text x="38.5" y="702.3" textLength="31" lengthAdjust="spacingAndGlyphs" style="font-family:'Liberation Sans',Arial,sans-serif;font-size:14.2px;font-weight:bold;fill:#000">2022</text>
<text x="88.5" y="702.3" text-anchor="middle" style="font-family:'Liberation Sans',Arial,sans-serif;font-size:13.6px;fill:#000">10</text>
<text x="122.0" y="702.3" text-anchor="middle" style="font-family:'Liberation Sans',Arial,sans-serif;font-size:13.6px;fill:#000">18</text>
<text x="148.7" y="702.3" text-anchor="middle" style="font-family:'Liberation Sans',Arial,sans-serif;font-size:13.6px;fill:#000">24</text>
<text x="177.1" y="702.3" textLength="23.5" lengthAdjust="spacingAndGlyphs" style="font-family:'Liberation Sans',Arial,sans-serif;font-size:14.2px;font-weight:bold;fill:#000">Feb</text>
<text x="215.6" y="702.3" text-anchor="middle" style="font-family:'Liberation Sans',Arial,sans-serif;font-size:13.6px;fill:#000">7</text>
<text x="249.0" y="702.3" text-anchor="middle" style="font-family:'Liberation Sans',Arial,sans-serif;font-size:13.6px;fill:#000">14</text>
<text x="282.4" y="702.3" text-anchor="middle" style="font-family:'Liberation Sans',Arial,sans-serif;font-size:13.6px;fill:#000">22</text>
<text x="302.3" y="702.3" textLength="27" lengthAdjust="spacingAndGlyphs" style="font-family:'Liberation Sans',Arial,sans-serif;font-size:14.2px;font-weight:bold;fill:#000">Mar</text>
<text x="342.6" y="702.3" text-anchor="middle" style="font-family:'Liberation Sans',Arial,sans-serif;font-size:13.6px;fill:#000">7</text>
<text x="376.0" y="702.3" text-anchor="middle" style="font-family:'Liberation Sans',Arial,sans-serif;font-size:13.6px;fill:#000">14</text>
<text x="409.4" y="702.3" text-anchor="middle" style="font-family:'Liberation Sans',Arial,sans-serif;font-size:13.6px;fill:#000">21</text>
<text x="442.9" y="702.3" text-anchor="middle" style="font-family:'Liberation Sans',Arial,sans-serif;font-size:13.6px;fill:#000">28</text>
<text x="456.9" y="702.3" textLength="25.3" lengthAdjust="spacingAndGlyphs" style="font-family:'Liberation Sans',Arial,sans-serif;font-size:14.2px;font-weight:bold;fill:#000">Apr</text>
<text x="509.7" y="702.3" text-anchor="middle" style="font-family:'Liberation Sans',Arial,sans-serif;font-size:13.6px;fill:#000">11</text>
<text x="536.4" y="702.3" text-anchor="middle" style="font-family:'Liberation Sans',Arial,sans-serif;font-size:13.6px;fill:#000">18</text>
<text x="569.9" y="702.3" text-anchor="middle" style="font-family:'Liberation Sans',Arial,sans-serif;font-size:13.6px;fill:#000">25</text>
<text x="589.0" y="702.3" textLength="28.5" lengthAdjust="spacingAndGlyphs" style="font-family:'Liberation Sans',Arial,sans-serif;font-size:14.2px;font-weight:bold;fill:#000">May</text>
<text x="636.7" y="702.3" text-anchor="middle" style="font-family:'Liberation Sans',Arial,sans-serif;font-size:13.6px;fill:#000">9</text>
<text x="670.1" y="702.3" text-anchor="middle" style="font-family:'Liberation Sans',Arial,sans-serif;font-size:13.6px;fill:#000">16</text>
<text x="703.6" y="702.3" text-anchor="middle" style="font-family:'Liberation Sans',Arial,sans-serif;font-size:13.6px;fill:#000">23</text>
<text x="733.1" y="702.3" textLength="26" lengthAdjust="spacingAndGlyphs" style="font-family:'Liberation Sans',Arial,sans-serif;font-size:14.2px;font-weight:bold;fill:#000">Jun</text>
<text x="763.4" y="702.3" text-anchor="middle" style="font-family:'Liberation Sans',Arial,sans-serif;font-size:13.6px;fill:#000">6</text>
<text x="797.2" y="702.3" text-anchor="middle" style="font-family:'Liberation Sans',Arial,sans-serif;font-size:13.6px;fill:#000">13</text>
<text x="829.8" y="702.3" text-anchor="middle" style="font-family:'Liberation Sans',Arial,sans-serif;font-size:13.6px;fill:#000">21</text>
<text x="857.3" y="702.3" text-anchor="middle" style="font-family:'Liberation Sans',Arial,sans-serif;font-size:13.6px;fill:#000">27</text>
<text x="874.8" y="702.3" textLength="20.5" lengthAdjust="spacingAndGlyphs" style="font-family:'Liberation Sans',Arial,sans-serif;font-size:14.2px;font-weight:bold;fill:#000">Jul</text>
<line x1="22.10" y1="558.3" x2="22.10" y2="555.9" stroke="#cacaca" stroke-width="1.1"/>
<line x1="28.79" y1="558.3" x2="28.79" y2="555.9" stroke="#cacaca" stroke-width="1.1"/>
<line x1="35.47" y1="558.3" x2="35.47" y2="555.9" stroke="#cacaca" stroke-width="1.1"/>
<line x1="42.16" y1="558.3" x2="42.16" y2="555.9" stroke="#cacaca" stroke-width="1.1"/>
<line x1="48.84" y1="558.3" x2="48.84" y2="555.9" stroke="#cacaca" stroke-width="1.1"/>
<line x1="55.52" y1="558.3" x2="55.52" y2="555.9" stroke="#cacaca" stroke-width="1.1"/>
<line x1="62.21" y1="558.3" x2="62.21" y2="555.9" stroke="#cacaca" stroke-width="1.1"/>
<line x1="68.89" y1="558.3" x2="68.89" y2="555.9" stroke="#cacaca" stroke-width="1.1"/>
<line x1="75.58" y1="558.3" x2="75.58" y2="555.9" stroke="#cacaca" stroke-width="1.1"/>
<line x1="82.27" y1="558.3" x2="82.27" y2="555.9" stroke="#cacaca" stroke-width="1.1"/>
<line x1="88.95" y1="558.3" x2="88.95" y2="555.9" stroke="#cacaca" stroke-width="1.1"/>
<line x1="95.63" y1="558.3" x2="95.63" y2="555.9" stroke="#cacaca" stroke-width="1.1"/>
<line x1="102.32" y1="558.3" x2="102.32" y2="555.9" stroke="#cacaca" stroke-width="1.1"/>
<line x1="109.00" y1="558.3" x2="109.00" y2="555.9" stroke="#cacaca" stroke-width="1.1"/>
<line x1="115.69" y1="558.3" x2="115.69" y2="555.9" stroke="#cacaca" stroke-width="1.1"/>
<line x1="122.38" y1="558.3" x2="122.38" y2="555.9" stroke="#cacaca" stroke-width="1.1"/>
<line x1="129.06" y1="558.3" x2="129.06" y2="555.9" stroke="#cacaca" stroke-width="1.1"/>
<line x1="135.75" y1="558.3" x2="135.75" y2="555.9" stroke="#cacaca" stroke-width="1.1"/>
<line x1="142.43" y1="558.3" x2="142.43" y2="555.9" stroke="#cacaca" stroke-width="1.1"/>
<line x1="149.11" y1="558.3" x2="149.11" y2="555.9" stroke="#cacaca" stroke-width="1.1"/>
<line x1="155.80" y1="558.3" x2="155.80" y2="555.9" stroke="#cacaca" stroke-width="1.1"/>
<line x1="162.48" y1="558.3" x2="162.48" y2="555.9" stroke="#cacaca" stroke-width="1.1"/>
<line x1="169.17" y1="558.3" x2="169.17" y2="555.9" stroke="#cacaca" stroke-width="1.1"/>
<line x1="175.85" y1="558.3" x2="175.85" y2="555.9" stroke="#cacaca" stroke-width="1.1"/>
<line x1="182.54" y1="558.3" x2="182.54" y2="555.9" stroke="#cacaca" stroke-width="1.1"/>
<line x1="189.22" y1="558.3" x2="189.22" y2="555.9" stroke="#cacaca" stroke-width="1.1"/>
<line x1="195.91" y1="558.3" x2="195.91" y2="555.9" stroke="#cacaca" stroke-width="1.1"/>
<line x1="202.59" y1="558.3" x2="202.59" y2="555.9" stroke="#cacaca" stroke-width="1.1"/>
<line x1="209.28" y1="558.3" x2="209.28" y2="555.9" stroke="#cacaca" stroke-width="1.1"/>
<line x1="215.96" y1="558.3" x2="215.96" y2="555.9" stroke="#cacaca" stroke-width="1.1"/>
<line x1="222.65" y1="558.3" x2="222.65" y2="555.9" stroke="#cacaca" stroke-width="1.1"/>
<line x1="229.33" y1="558.3" x2="229.33" y2="555.9" stroke="#cacaca" stroke-width="1.1"/>
<line x1="236.02" y1="558.3" x2="236.02" y2="555.9" stroke="#cacaca" stroke-width="1.1"/>
<line x1="242.70" y1="558.3" x2="242.70" y2="555.9" stroke="#cacaca" stroke-width="1.1"/>
<line x1="249.39" y1="558.3" x2="249.39" y2="555.9" stroke="#cacaca" stroke-width="1.1"/>
<line x1="256.07" y1="558.3" x2="256.07" y2="555.9" stroke="#cacaca" stroke-width="1.1"/>
<line x1="262.76" y1="558.3" x2="262.76" y2="555.9" stroke="#cacaca" stroke-width="1.1"/>
<line x1="269.44" y1="558.3" x2="269.44" y2="555.9" stroke="#cacaca" stroke-width="1.1"/>
<line x1="276.13" y1="558.3" x2="276.13" y2="555.9" stroke="#cacaca" stroke-width="1.1"/>
<line x1="282.81" y1="558.3" x2="282.81" y2="555.9" stroke="#cacaca" stroke-width="1.1"/>
<line x1="289.50" y1="558.3" x2="289.50" y2="555.9" stroke="#cacaca" stroke-width="1.1"/>
<line x1="296.19" y1="558.3" x2="296.19" y2="555.9" stroke="#cacaca" stroke-width="1.1"/>
<line x1="302.87" y1="558.3" x2="302.87" y2="555.9" stroke="#cacaca" stroke-width="1.1"/>
<line x1="309.56" y1="558.3" x2="309.56" y2="555.9" stroke="#cacaca" stroke-width="1.1"/>
<line x1="316.24" y1="558.3" x2="316.24" y2="555.9" stroke="#cacaca" stroke-width="1.1"/>
<line x1="322.93" y1="558.3" x2="322.93" y2="555.9" stroke="#cacaca" stroke-width="1.1"/>
<line x1="329.61" y1="558.3" x2="329.61" y2="555.9" stroke="#cacaca" stroke-width="1.1"/>
<line x1="336.30" y1="558.3" x2="336.30" y2="555.9" stroke="#cacaca" stroke-width="1.1"/>
<line x1="342.98" y1="558.3" x2="342.98" y2="555.9" stroke="#cacaca" stroke-width="1.1"/>
<line x1="349.67" y1="558.3" x2="349.67" y2="555.9" stroke="#cacaca" stroke-width="1.1"/>
<line x1="356.35" y1="558.3" x2="356.35" y2="555.9" stroke="#cacaca" stroke-width="1.1"/>
<line x1="363.04" y1="558.3" x2="363.04" y2="555.9" stroke="#cacaca" stroke-width="1.1"/>
<line x1="369.72" y1="558.3" x2="369.72" y2="555.9" stroke="#cacaca" stroke-width="1.1"/>
<line x1="376.41" y1="558.3" x2="376.41" y2="555.9" stroke="#cacaca" stroke-width="1.1"/>
<line x1="383.09" y1="558.3" x2="383.09" y2="555.9" stroke="#cacaca" stroke-width="1.1"/>
<line x1="389.77" y1="558.3" x2="389.77" y2="555.9" stroke="#cacaca" stroke-width="1.1"/>
<line x1="396.46" y1="558.3" x2="396.46" y2="555.9" stroke="#cacaca" stroke-width="1.1"/>
<line x1="403.14" y1="558.3" x2="403.14" y2="555.9" stroke="#cacaca" stroke-width="1.1"/>
<line x1="409.83" y1="558.3" x2="409.83" y2="555.9" stroke="#cacaca" stroke-width="1.1"/>
<line x1="416.51" y1="558.3" x2="416.51" y2="555.9" stroke="#cacaca" stroke-width="1.1"/>
<line x1="423.20" y1="558.3" x2="423.20" y2="555.9" stroke="#cacaca" stroke-width="1.1"/>
<line x1="429.88" y1="558.3" x2="429.88" y2="555.9" stroke="#cacaca" stroke-width="1.1"/>
<line x1="436.57" y1="558.3" x2="436.57" y2="555.9" stroke="#cacaca" stroke-width="1.1"/>
<line x1="443.25" y1="558.3" x2="443.25" y2="555.9" stroke="#cacaca" stroke-width="1.1"/>
<line x1="449.94" y1="558.3" x2="449.94" y2="555.9" stroke="#cacaca" stroke-width="1.1"/>
<line x1="456.62" y1="558.3" x2="456.62" y2="555.9" stroke="#cacaca" stroke-width="1.1"/>
<line x1="463.31" y1="558.3" x2="463.31" y2="555.9" stroke="#cacaca" stroke-width="1.1"/>
<line x1="470.00" y1="558.3" x2="470.00" y2="555.9" stroke="#cacaca" stroke-width="1.1"/>
<line x1="476.68" y1="558.3" x2="476.68" y2="555.9" stroke="#cacaca" stroke-width="1.1"/>
<line x1="483.37" y1="558.3" x2="483.37" y2="555.9" stroke="#cacaca" stroke-width="1.1"/>
<line x1="490.05" y1="558.3" x2="490.05" y2="555.9" stroke="#cacaca" stroke-width="1.1"/>
<line x1="496.74" y1="558.3" x2="496.74" y2="555.9" stroke="#cacaca" stroke-width="1.1"/>
<line x1="503.42" y1="558.3" x2="503.42" y2="555.9" stroke="#cacaca" stroke-width="1.1"/>
<line x1="510.11" y1="558.3" x2="510.11" y2="555.9" stroke="#cacaca" stroke-width="1.1"/>
<line x1="516.79" y1="558.3" x2="516.79" y2="555.9" stroke="#cacaca" stroke-width="1.1"/>
<line x1="523.47" y1="558.3" x2="523.47" y2="555.9" stroke="#cacaca" stroke-width="1.1"/>
<line x1="530.16" y1="558.3" x2="530.16" y2="555.9" stroke="#cacaca" stroke-width="1.1"/>
<line x1="536.85" y1="558.3" x2="536.85" y2="555.9" stroke="#cacaca" stroke-width="1.1"/>
<line x1="543.53" y1="558.3" x2="543.53" y2="555.9" stroke="#cacaca" stroke-width="1.1"/>
<line x1="550.22" y1="558.3" x2="550.22" y2="555.9" stroke="#cacaca" stroke-width="1.1"/>
<line x1="556.90" y1="558.3" x2="556.90" y2="555.9" stroke="#cacaca" stroke-width="1.1"/>
<line x1="563.59" y1="558.3" x2="563.59" y2="555.9" stroke="#cacaca" stroke-width="1.1"/>
<line x1="570.27" y1="558.3" x2="570.27" y2="555.9" stroke="#cacaca" stroke-width="1.1"/>
<line x1="576.96" y1="558.3" x2="576.96" y2="555.9" stroke="#cacaca" stroke-width="1.1"/>
<line x1="583.64" y1="558.3" x2="583.64" y2="555.9" stroke="#cacaca" stroke-width="1.1"/>
<line x1="590.33" y1="558.3" x2="590.33" y2="555.9" stroke="#cacaca" stroke-width="1.1"/>
<line x1="597.01" y1="558.3" x2="597.01" y2="555.9" stroke="#cacaca" stroke-width="1.1"/>
<line x1="603.69" y1="558.3" x2="603.69" y2="555.9" stroke="#cacaca" stroke-width="1.1"/>
<line x1="610.38" y1="558.3" x2="610.38" y2="555.9" stroke="#cacaca" stroke-width="1.1"/>
<line x1="617.06" y1="558.3" x2="617.06" y2="555.9" stroke="#cacaca" stroke-width="1.1"/>
<line x1="623.75" y1="558.3" x2="623.75" y2="555.9" stroke="#cacaca" stroke-width="1.1"/>
<line x1="630.43" y1="558.3" x2="630.43" y2="555.9" stroke="#cacaca" stroke-width="1.1"/>
<line x1="637.12" y1="558.3" x2="637.12" y2="555.9" stroke="#cacaca" stroke-width="1.1"/>
<line x1="643.80" y1="558.3" x2="643.80" y2="555.9" stroke="#cacaca" stroke-width="1.1"/>
<line x1="650.49" y1="558.3" x2="650.49" y2="555.9" stroke="#cacaca" stroke-width="1.1"/>
<line x1="657.17" y1="558.3" x2="657.17" y2="555.9" stroke="#cacaca" stroke-width="1.1"/>
<line x1="663.86" y1="558.3" x2="663.86" y2="555.9" stroke="#cacaca" stroke-width="1.1"/>
<line x1="670.54" y1="558.3" x2="670.54" y2="555.9" stroke="#cacaca" stroke-width="1.1"/>
<line x1="677.23" y1="558.3" x2="677.23" y2="555.9" stroke="#cacaca" stroke-width="1.1"/>
<line x1="683.91" y1="558.3" x2="683.91" y2="555.9" stroke="#cacaca" stroke-width="1.1"/>
<line x1="690.60" y1="558.3" x2="690.60" y2="555.9" stroke="#cacaca" stroke-width="1.1"/>
<line x1="697.28" y1="558.3" x2="697.28" y2="555.9" stroke="#cacaca" stroke-width="1.1"/>
<line x1="703.97" y1="558.3" x2="703.97" y2="555.9" stroke="#cacaca" stroke-width="1.1"/>
<line x1="710.65" y1="558.3" x2="710.65" y2="555.9" stroke="#cacaca" stroke-width="1.1"/>
<line x1="717.34" y1="558.3" x2="717.34" y2="555.9" stroke="#cacaca" stroke-width="1.1"/>
<line x1="724.02" y1="558.3" x2="724.02" y2="555.9" stroke="#cacaca" stroke-width="1.1"/>
<line x1="730.71" y1="558.3" x2="730.71" y2="555.9" stroke="#cacaca" stroke-width="1.1"/>
<line x1="737.39" y1="558.3" x2="737.39" y2="555.9" stroke="#cacaca" stroke-width="1.1"/>
<line x1="744.08" y1="558.3" x2="744.08" y2="555.9" stroke="#cacaca" stroke-width="1.1"/>
<line x1="750.76" y1="558.3" x2="750.76" y2="555.9" stroke="#cacaca" stroke-width="1.1"/>
<line x1="757.45" y1="558.3" x2="757.45" y2="555.9" stroke="#cacaca" stroke-width="1.1"/>
<line x1="764.13" y1="558.3" x2="764.13" y2="555.9" stroke="#cacaca" stroke-width="1.1"/>
<line x1="770.82" y1="558.3" x2="770.82" y2="555.9" stroke="#cacaca" stroke-width="1.1"/>
<line x1="777.50" y1="558.3" x2="777.50" y2="555.9" stroke="#cacaca" stroke-width="1.1"/>
<line x1="784.19" y1="558.3" x2="784.19" y2="555.9" stroke="#cacaca" stroke-width="1.1"/>
<line x1="790.88" y1="558.3" x2="790.88" y2="555.9" stroke="#cacaca" stroke-width="1.1"/>
<line x1="797.56" y1="558.3" x2="797.56" y2="555.9" stroke="#cacaca" stroke-width="1.1"/>
<line x1="804.25" y1="558.3" x2="804.25" y2="555.9" stroke="#cacaca" stroke-width="1.1"/>
<line x1="810.93" y1="558.3" x2="810.93" y2="555.9" stroke="#cacaca" stroke-width="1.1"/>
<line x1="817.62" y1="558.3" x2="817.62" y2="555.9" stroke="#cacaca" stroke-width="1.1"/>
<line x1="824.30" y1="558.3" x2="824.30" y2="555.9" stroke="#cacaca" stroke-width="1.1"/>
<line x1="830.99" y1="558.3" x2="830.99" y2="555.9" stroke="#cacaca" stroke-width="1.1"/>
<line x1="837.67" y1="558.3" x2="837.67" y2="555.9" stroke="#cacaca" stroke-width="1.1"/>
<line x1="844.36" y1="558.3" x2="844.36" y2="555.9" stroke="#cacaca" stroke-width="1.1"/>
<line x1="851.04" y1="558.3" x2="851.04" y2="555.9" stroke="#cacaca" stroke-width="1.1"/>
<line x1="857.73" y1="558.3" x2="857.73" y2="555.9" stroke="#cacaca" stroke-width="1.1"/>
<line x1="864.41" y1="558.3" x2="864.41" y2="555.9" stroke="#cacaca" stroke-width="1.1"/>
<line x1="871.10" y1="558.3" x2="871.10" y2="555.9" stroke="#cacaca" stroke-width="1.1"/>
<line x1="877.78" y1="558.3" x2="877.78" y2="555.9" stroke="#cacaca" stroke-width="1.1"/>
<line x1="884.46" y1="558.3" x2="884.46" y2="555.9" stroke="#cacaca" stroke-width="1.1"/>
<line x1="22.10" y1="38.0" x2="22.10" y2="35.4" stroke="#cacaca" stroke-width="1.1"/>
<line x1="55.52" y1="38.0" x2="55.52" y2="35.4" stroke="#cacaca" stroke-width="1.1"/>
<line x1="88.95" y1="38.0" x2="88.95" y2="35.4" stroke="#cacaca" stroke-width="1.1"/>
<line x1="122.38" y1="38.0" x2="122.38" y2="35.4" stroke="#cacaca" stroke-width="1.1"/>
<line x1="149.11" y1="38.0" x2="149.11" y2="35.4" stroke="#cacaca" stroke-width="1.1"/>
<line x1="182.54" y1="38.0" x2="182.54" y2="35.4" stroke="#cacaca" stroke-width="1.1"/>
<line x1="189.22" y1="38.0" x2="189.22" y2="35.4" stroke="#cacaca" stroke-width="1.1"/>
<line x1="215.96" y1="38.0" x2="215.96" y2="35.4" stroke="#cacaca" stroke-width="1.1"/>
<line x1="249.39" y1="38.0" x2="249.39" y2="35.4" stroke="#cacaca" stroke-width="1.1"/>
<line x1="282.81" y1="38.0" x2="282.81" y2="35.4" stroke="#cacaca" stroke-width="1.1"/>
<line x1="309.56" y1="38.0" x2="309.56" y2="35.4" stroke="#cacaca" stroke-width="1.1"/>
<line x1="316.24" y1="38.0" x2="316.24" y2="35.4" stroke="#cacaca" stroke-width="1.1"/>
<line x1="342.98" y1="38.0" x2="342.98" y2="35.4" stroke="#cacaca" stroke-width="1.1"/>
<line x1="376.41" y1="38.0" x2="376.41" y2="35.4" stroke="#cacaca" stroke-width="1.1"/>
<line x1="409.83" y1="38.0" x2="409.83" y2="35.4" stroke="#cacaca" stroke-width="1.1"/>
<line x1="443.25" y1="38.0" x2="443.25" y2="35.4" stroke="#cacaca" stroke-width="1.1"/>
<line x1="470.00" y1="38.0" x2="470.00" y2="35.4" stroke="#cacaca" stroke-width="1.1"/>
<line x1="476.68" y1="38.0" x2="476.68" y2="35.4" stroke="#cacaca" stroke-width="1.1"/>
<line x1="510.11" y1="38.0" x2="510.11" y2="35.4" stroke="#cacaca" stroke-width="1.1"/>
<line x1="536.85" y1="38.0" x2="536.85" y2="35.4" stroke="#cacaca" stroke-width="1.1"/>
<line x1="570.27" y1="38.0" x2="570.27" y2="35.4" stroke="#cacaca" stroke-width="1.1"/>
<line x1="603.69" y1="38.0" x2="603.69" y2="35.4" stroke="#cacaca" stroke-width="1.1"/>
<line x1="637.12" y1="38.0" x2="637.12" y2="35.4" stroke="#cacaca" stroke-width="1.1"/>
<line x1="670.54" y1="38.0" x2="670.54" y2="35.4" stroke="#cacaca" stroke-width="1.1"/>
<line x1="703.97" y1="38.0" x2="703.97" y2="35.4" stroke="#cacaca" stroke-width="1.1"/>
<line x1="737.39" y1="38.0" x2="737.39" y2="35.4" stroke="#cacaca" stroke-width="1.1"/>
<line x1="744.08" y1="38.0" x2="744.08" y2="35.4" stroke="#cacaca" stroke-width="1.1"/>
<line x1="764.13" y1="38.0" x2="764.13" y2="35.4" stroke="#cacaca" stroke-width="1.1"/>
<line x1="797.56" y1="38.0" x2="797.56" y2="35.4" stroke="#cacaca" stroke-width="1.1"/>
<line x1="830.99" y1="38.0" x2="830.99" y2="35.4" stroke="#cacaca" stroke-width="1.1"/>
<line x1="857.73" y1="38.0" x2="857.73" y2="35.4" stroke="#cacaca" stroke-width="1.1"/>
<line x1="884.46" y1="38.0" x2="884.46" y2="35.4" stroke="#cacaca" stroke-width="1.1"/>
<text x="22" y="18.4" style="font-family:'Liberation Sans',Arial,sans-serif;font-size:17.6px;font-weight:bold;fill:#000">$VIX</text>
<text x="65.7" y="17.9" textLength="220" lengthAdjust="spacing" style="font-family:'Liberation Sans',Arial,sans-serif;font-size:14.3px;fill:#000">Volatility Index - New Methodology</text>
<text x="293.6" y="17.5" textLength="31.2" lengthAdjust="spacing" style="font-family:'Liberation Sans',Arial,sans-serif;font-size:12.4px;fill:#000">INDX</text>
<text x="22" y="34.6" style="font-family:'Liberation Sans',Arial,sans-serif;font-size:14.1px;fill:#000">1-Jul-2022 12:29pm</text>
<text x="774.2" y="16.6" style="font-family:'DejaVu Sans',Verdana,sans-serif;font-size:11.5px;fill:#4a4a4a">©</text>
<text x="786.2" y="16.8" textLength="107" lengthAdjust="spacingAndGlyphs" style="font-family:'DejaVu Sans',Verdana,sans-serif;font-size:12.6px;fill:#4a4a4a">StockCharts.com</text>
<text x="430.3" y="34.6" style="font-family:'Liberation Sans',Arial,sans-serif;font-size:14.4px;font-weight:bold;fill:#000">Open</text>
<text x="472.8" y="34.6" style="font-family:'Liberation Sans',Arial,sans-serif;font-size:14.3px;fill:#000">29.53</text>
<text x="516.5" y="34.6" style="font-family:'Liberation Sans',Arial,sans-serif;font-size:14.4px;font-weight:bold;fill:#000">High</text>
<text x="553.2" y="34.6" style="font-family:'Liberation Sans',Arial,sans-serif;font-size:14.3px;fill:#000">29.59</text>
<text x="597" y="34.6" style="font-family:'Liberation Sans',Arial,sans-serif;font-size:14.4px;font-weight:bold;fill:#000">Low</text>
<text x="633.2" y="34.6" style="font-family:'Liberation Sans',Arial,sans-serif;font-size:14.3px;fill:#000">27.45</text>
<text x="677.5" y="34.6" style="font-family:'Liberation Sans',Arial,sans-serif;font-size:14.4px;font-weight:bold;fill:#000">Last</text>
<text x="713.6" y="34.6" style="font-family:'Liberation Sans',Arial,sans-serif;font-size:14.3px;fill:#000">27.54</text>
<text x="758" y="34.6" style="font-family:'Liberation Sans',Arial,sans-serif;font-size:14.4px;font-weight:bold;fill:#000">Chg</text>
<text x="791.4" y="34.6" style="font-family:'Liberation Sans',Arial,sans-serif;font-size:14.3px;fill:#000">-1.17</text>
<text x="827.5" y="34.6" style="font-family:'Liberation Sans',Arial,sans-serif;font-size:14.3px;fill:#000">(-4.08%)</text>
<polygon points="883.8,27.8 893.4,27.8 888.6,33.2" fill="#990033"/>
<rect x="23" y="39" width="125" height="14.5" fill="#fff"/>
<path d="M26,51.6 L27.4,47.3 L31.4,41 L33.8,47 L36.8,43.2 L36.8,51.6 Z" fill="#74a276"/><path d="M26,51.6 L27.4,47.3 L31.4,41 L33.8,47 L36.8,43.2 L36.8,51.6" fill="none" stroke="#111" stroke-width="1.6"/>
<text x="42.4" y="51.6" textLength="105.1" lengthAdjust="spacing" style="font-family:'DejaVu Sans',Verdana,sans-serif;font-size:11.7px;fill:#000;stroke:#000;stroke-width:0.25px" xml:space="preserve">RSI(14) 47.66</text>
<rect x="23" y="169" width="158" height="16" fill="#fff"/>
<text x="42.7" y="181.6" textLength="135.4" lengthAdjust="spacing" style="font-family:'DejaVu Sans',Verdana,sans-serif;font-size:11.7px;fill:#000;stroke:#000;stroke-width:0.25px" xml:space="preserve">$VIX (Daily) 27.54</text>
<g fill="#000"><rect x="26.7" y="170.8" width="1.1" height="10"/><rect x="25.1" y="172.4" width="4.3" height="5.3"/><rect x="30.9" y="176" width="1.1" height="5.8"/><rect x="28.9" y="174.7" width="5.1" height="5.3"/><rect x="34.9" y="170.8" width="1.1" height="11"/><rect x="33.3" y="172.4" width="4.3" height="7.6"/></g><g fill="#fff"><rect x="26.7" y="173.6" width="1.1" height="3"/><rect x="34.9" y="173.7" width="1.1" height="5.2"/></g>
<rect x="23" y="184" width="97" height="14" fill="#fff"/>
<line x1="25.5" y1="191.5" x2="37.5" y2="191.5" stroke="#000099" stroke-width="2.4"/>
<text x="39" y="196.3" style="font-family:'DejaVu Sans',Verdana,sans-serif;font-size:11.9px;fill:#000099;stroke:#000099;stroke-width:0.2px" textLength="78.3" lengthAdjust="spacingAndGlyphs">MA(50) 28.85</text>
<rect x="23" y="198" width="105" height="14" fill="#fff"/>
<line x1="25.5" y1="205.8" x2="37.5" y2="205.8" stroke="#cc0033" stroke-width="2.4"/>
<text x="39" y="210.6" style="font-family:'DejaVu Sans',Verdana,sans-serif;font-size:11.9px;fill:#cc0033;stroke:#cc0033;stroke-width:0.2px" textLength="85" lengthAdjust="spacingAndGlyphs">MA(200) 23.82</text>
<rect x="23" y="212" width="100" height="15" fill="#fff"/>
<g fill="#3d3d3d"><rect x="25.3" y="217.9" width="4.3" height="6.8"/><rect x="29.4" y="214.1" width="4.3" height="10.6"/><rect x="33.5" y="216.9" width="4" height="7.8"/></g><g fill="#9a9a9a"><rect x="27" y="219.3" width="0.9" height="5.4"/><rect x="31.1" y="215.5" width="0.9" height="9.2"/><rect x="35" y="218.3" width="0.9" height="6.4"/></g>
<text x="39" y="224.4" style="font-family:'DejaVu Sans',Verdana,sans-serif;font-size:11.9px;fill:#505050;stroke:#505050;stroke-width:0.2px">Volume undef</text>
<rect x="23" y="559.3" width="293.4" height="15.7" fill="#fff"/>
<line x1="25.5" y1="567" x2="37.5" y2="567" stroke="#000" stroke-width="2.4"/>
<text x="42.7" y="571.8" textLength="158.8" lengthAdjust="spacing" style="font-family:'DejaVu Sans',Verdana,sans-serif;font-size:11.7px;fill:#000;stroke:#000;stroke-width:0.25px" xml:space="preserve">MACD(12,26,9) 0.056</text>
<text x="203.4" y="571.8" textLength="3.7" lengthAdjust="spacing" style="font-family:'DejaVu Sans',Verdana,sans-serif;font-size:11.7px;fill:#ff1a1a;stroke:#ff1a1a;stroke-width:0.25px" xml:space="preserve">,</text>
<text x="214.3" y="571.8" textLength="40.7" lengthAdjust="spacing" style="font-family:'DejaVu Sans',Verdana,sans-serif;font-size:11.7px;fill:#ff1a1a;stroke:#ff1a1a;stroke-width:0.25px" xml:space="preserve">0.258</text>
<text x="257.2" y="571.8" textLength="3.7" lengthAdjust="spacing" style="font-family:'DejaVu Sans',Verdana,sans-serif;font-size:11.7px;fill:#2a8fc5;stroke:#2a8fc5;stroke-width:0.25px" xml:space="preserve">,</text>
<text x="268.5" y="571.8" textLength="47.7" lengthAdjust="spacing" style="font-family:'DejaVu Sans',Verdana,sans-serif;font-size:11.7px;fill:#2a8fc5;stroke:#2a8fc5;stroke-width:0.25px" xml:space="preserve">-0.202</text>
<polygon points="891.2,105.0 896.6,98.9 934.9,98.9 934.9,111.1 896.6,111.1" fill="#fff" stroke="#000" stroke-width="1.6" stroke-linejoin="miter"/>
<text x="897.3" y="109.4" textLength="34.5" lengthAdjust="spacing" style="font-family:'Liberation Sans',Arial,sans-serif;font-size:13px;fill:#000">47.66</text>
<polygon points="891.2,377.4 896.6,371.5 934.9,371.5 934.9,383.2 896.6,383.2" fill="#fff" stroke="#cc0033" stroke-width="1.5" stroke-linejoin="miter"/>
<text x="897.3" y="381.8" textLength="34.5" lengthAdjust="spacing" style="font-family:'Liberation Sans',Arial,sans-serif;font-size:13px;fill:#000">23.82</text>
<polygon points="891.2,299.0 896.6,293.1 934.9,293.1 934.9,304.9 896.6,304.9" fill="#fff" stroke="#000099" stroke-width="1.5" stroke-linejoin="miter"/>
<text x="897.3" y="303.4" textLength="34.5" lengthAdjust="spacing" style="font-family:'Liberation Sans',Arial,sans-serif;font-size:13px;fill:#000">28.85</text>
<polygon points="891.2,318.7 896.6,312.3 934.9,312.3 934.9,325.1 896.6,325.1" fill="#fff" stroke="#000" stroke-width="1.8" stroke-linejoin="miter"/>
<text x="897.2" y="323.1" textLength="36" lengthAdjust="spacing" style="font-family:'Liberation Sans',Arial,sans-serif;font-size:13px;font-weight:bold;fill:#000">27.54</text>
<polygon points="891.2,620.4 896.6,614.5 934.9,614.5 934.9,626.2 896.6,626.2" fill="#fff" stroke="#ff1a1a" stroke-width="1.5" stroke-linejoin="miter"/>
<text x="897.3" y="624.8" textLength="34.5" lengthAdjust="spacing" style="font-family:'Liberation Sans',Arial,sans-serif;font-size:13px;fill:#000">0.258</text>
<polygon points="891.2,631.2 896.6,625.4 934.9,625.4 934.9,637.1 896.6,637.1" fill="#fff" stroke="#3b7ab8" stroke-width="1.5" stroke-linejoin="miter"/>
<text x="897" y="635.6" textLength="36.5" lengthAdjust="spacing" style="font-family:'Liberation Sans',Arial,sans-serif;font-size:13px;fill:#000">-0.202</text>
<polygon points="891.2,625.0 896.6,618.4 934.9,618.4 934.9,631.6 896.6,631.6" fill="#fff" stroke="#000" stroke-width="1.8" stroke-linejoin="miter"/>
<text x="896.8" y="629.4" textLength="35.5" lengthAdjust="spacing" style="font-family:'Liberation Sans',Arial,sans-serif;font-size:13px;fill:#000">0.056</text>
</svg>
</body></html>
